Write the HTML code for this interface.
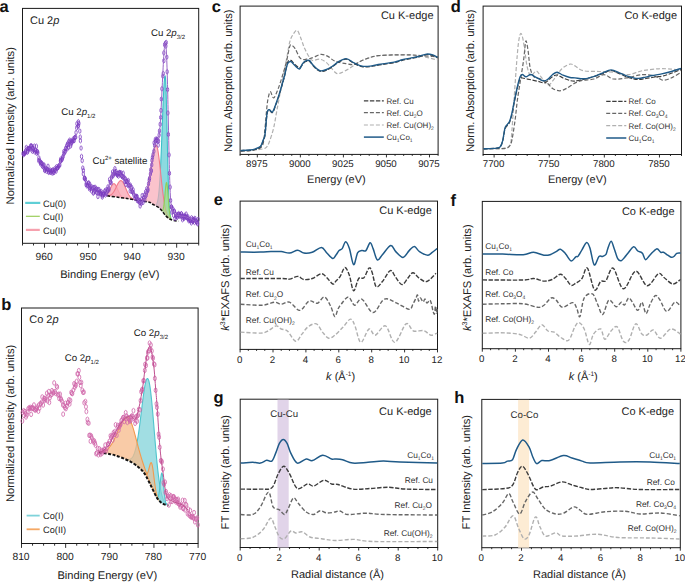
<!DOCTYPE html>
<html><head><meta charset="utf-8"><style>
html,body{margin:0;padding:0;background:#fff;overflow:hidden;}
svg{display:block;}
text{font-family:"Liberation Sans", sans-serif;text-rendering:geometricPrecision;}
</style></head><body>
<svg width="685" height="582" viewBox="0 0 685 582">
<rect width="685" height="582" fill="#fff"/>
<text x="-0.5" y="12" font-size="16.5" text-anchor="start" font-weight="bold" fill="#111" >a</text>
<text x="1.2" y="309.6" font-size="16.5" text-anchor="start" font-weight="bold" fill="#111" >b</text>
<text x="211.8" y="11.8" font-size="16.5" text-anchor="start" font-weight="bold" fill="#111" >c</text>
<text x="450.8" y="12" font-size="16.5" text-anchor="start" font-weight="bold" fill="#111" >d</text>
<text x="213.8" y="205.1" font-size="16.5" text-anchor="start" font-weight="bold" fill="#111" >e</text>
<text x="450.6" y="205.8" font-size="16.5" text-anchor="start" font-weight="bold" fill="#111" >f</text>
<text x="213.6" y="402.6" font-size="16.5" text-anchor="start" font-weight="bold" fill="#111" >g</text>
<text x="454.2" y="402.7" font-size="16.5" text-anchor="start" font-weight="bold" fill="#111" >h</text>
<rect x="22.5" y="8.4" width="176.2" height="234.9" fill="none" stroke="#1a1a1a" stroke-width="1"/>
<path d="M198.7,243.3v2.2M187.69,243.3v2.2M176.67,243.3v4.4M165.66,243.3v2.2M154.65,243.3v2.2M143.64,243.3v2.2M132.62,243.3v4.4M121.61,243.3v2.2M110.6,243.3v2.2M99.59,243.3v2.2M88.57,243.3v4.4M77.56,243.3v2.2M66.55,243.3v2.2M55.54,243.3v2.2M44.52,243.3v4.4M33.51,243.3v2.2M22.5,243.3v2.2" stroke="#1a1a1a" stroke-width="0.9" fill="none"/>
<text x="44.02" y="259.5" font-size="10.3" text-anchor="middle" font-weight="normal" fill="#222" >960</text>
<text x="88.07" y="259.5" font-size="10.3" text-anchor="middle" font-weight="normal" fill="#222" >950</text>
<text x="132.12" y="259.5" font-size="10.3" text-anchor="middle" font-weight="normal" fill="#222" >940</text>
<text x="176.17" y="259.5" font-size="10.3" text-anchor="middle" font-weight="normal" fill="#222" >930</text>
<text x="109.8" y="278" font-size="11.1" text-anchor="middle" font-weight="normal" fill="#222" >Binding Energy (eV)</text>
<text transform="translate(14.2,204.4) rotate(-90)" font-size="11.15" fill="#222">Normalized Intensity (arb. units)</text>
<text x="30" y="23.7" font-size="11" text-anchor="start" font-weight="normal" fill="#222" >Cu 2<tspan font-style="italic">p</tspan></text>
<rect x="21.5" y="308" width="176.6" height="235.5" fill="none" stroke="#1a1a1a" stroke-width="1"/>
<path d="M198.1,543.5v4.4M187.06,543.5v2.2M176.03,543.5v2.2M164.99,543.5v2.2M153.95,543.5v4.4M142.91,543.5v2.2M131.88,543.5v2.2M120.84,543.5v2.2M109.8,543.5v4.4M98.76,543.5v2.2M87.72,543.5v2.2M76.69,543.5v2.2M65.65,543.5v4.4M54.61,543.5v2.2M43.58,543.5v2.2M32.54,543.5v2.2M21.5,543.5v4.4" stroke="#1a1a1a" stroke-width="0.9" fill="none"/>
<text x="21" y="559.5" font-size="10.3" text-anchor="middle" font-weight="normal" fill="#222" >810</text>
<text x="65.15" y="559.5" font-size="10.3" text-anchor="middle" font-weight="normal" fill="#222" >800</text>
<text x="109.3" y="559.5" font-size="10.3" text-anchor="middle" font-weight="normal" fill="#222" >790</text>
<text x="153.45" y="559.5" font-size="10.3" text-anchor="middle" font-weight="normal" fill="#222" >780</text>
<text x="197.6" y="559.5" font-size="10.3" text-anchor="middle" font-weight="normal" fill="#222" >770</text>
<text x="107.3" y="579" font-size="11.15" text-anchor="middle" font-weight="normal" fill="#222" >Binding Energy (eV)</text>
<text transform="translate(13.6,502.1) rotate(-90)" font-size="11.15" fill="#222">Normalized Intensity (arb. units)</text>
<text x="29.2" y="322.9" font-size="11" text-anchor="start" font-weight="normal" fill="#222" >Co 2<tspan font-style="italic">p</tspan></text>
<rect x="240.1" y="6.1" width="198" height="148.3" fill="none" stroke="#1a1a1a" stroke-width="1"/>
<path d="M240.1,154.4v1.5M248.71,154.4v1.5M257.32,154.4v3M265.93,154.4v1.5M274.53,154.4v1.5M283.14,154.4v1.5M291.75,154.4v1.5M300.36,154.4v3M308.97,154.4v1.5M317.58,154.4v1.5M326.19,154.4v1.5M334.8,154.4v1.5M343.4,154.4v3M352.01,154.4v1.5M360.62,154.4v1.5M369.23,154.4v1.5M377.84,154.4v1.5M386.45,154.4v3M395.06,154.4v1.5M403.67,154.4v1.5M412.27,154.4v1.5M420.88,154.4v1.5M429.49,154.4v3M438.1,154.4v1.5" stroke="#1a1a1a" stroke-width="0.9" fill="none"/>
<text x="256.82" y="166.6" font-size="9.7" text-anchor="middle" font-weight="normal" fill="#222" >8975</text>
<text x="299.86" y="166.6" font-size="9.7" text-anchor="middle" font-weight="normal" fill="#222" >9000</text>
<text x="342.9" y="166.6" font-size="9.7" text-anchor="middle" font-weight="normal" fill="#222" >9025</text>
<text x="385.95" y="166.6" font-size="9.7" text-anchor="middle" font-weight="normal" fill="#222" >9050</text>
<text x="428.99" y="166.6" font-size="9.7" text-anchor="middle" font-weight="normal" fill="#222" >9075</text>
<text x="336.4" y="182.5" font-size="11" text-anchor="middle" font-weight="normal" fill="#222" >Energy (eV)</text>
<text transform="translate(231.9,152) rotate(-90)" font-size="11.15" fill="#222">Norm. Absorption (arb. units)</text>
<text x="433.5" y="18.8" font-size="11" text-anchor="end" font-weight="normal" fill="#222" >Cu K-edge</text>
<rect x="483.1" y="6.1" width="198.4" height="148.4" fill="none" stroke="#1a1a1a" stroke-width="1"/>
<path d="M483.1,154.5v1.5M494.12,154.5v3M505.14,154.5v1.5M516.17,154.5v1.5M527.19,154.5v1.5M538.21,154.5v1.5M549.23,154.5v3M560.26,154.5v1.5M571.28,154.5v1.5M582.3,154.5v1.5M593.32,154.5v1.5M604.34,154.5v3M615.37,154.5v1.5M626.39,154.5v1.5M637.41,154.5v1.5M648.43,154.5v1.5M659.46,154.5v3M670.48,154.5v1.5M681.5,154.5v1.5" stroke="#1a1a1a" stroke-width="0.9" fill="none"/>
<text x="493.62" y="166.6" font-size="9.7" text-anchor="middle" font-weight="normal" fill="#222" >7700</text>
<text x="548.73" y="166.6" font-size="9.7" text-anchor="middle" font-weight="normal" fill="#222" >7750</text>
<text x="603.84" y="166.6" font-size="9.7" text-anchor="middle" font-weight="normal" fill="#222" >7800</text>
<text x="658.96" y="166.6" font-size="9.7" text-anchor="middle" font-weight="normal" fill="#222" >7850</text>
<text x="577.3" y="182.5" font-size="11" text-anchor="middle" font-weight="normal" fill="#222" >Energy (eV)</text>
<text transform="translate(473.9,152) rotate(-90)" font-size="11.15" fill="#222">Norm. Absorption (arb. units)</text>
<text x="677" y="18.5" font-size="11" text-anchor="end" font-weight="normal" fill="#222" >Co K-edge</text>
<rect x="240.1" y="201.1" width="197.4" height="148.3" fill="none" stroke="#1a1a1a" stroke-width="1"/>
<path d="M240.1,349.4v3M248.32,349.4v1.5M256.55,349.4v1.5M264.77,349.4v1.5M273,349.4v3M281.23,349.4v1.5M289.45,349.4v1.5M297.68,349.4v1.5M305.9,349.4v3M314.12,349.4v1.5M322.35,349.4v1.5M330.57,349.4v1.5M338.8,349.4v3M347.02,349.4v1.5M355.25,349.4v1.5M363.48,349.4v1.5M371.7,349.4v3M379.93,349.4v1.5M388.15,349.4v1.5M396.38,349.4v1.5M404.6,349.4v3M412.82,349.4v1.5M421.05,349.4v1.5M429.27,349.4v1.5M437.5,349.4v3" stroke="#1a1a1a" stroke-width="0.9" fill="none"/>
<text x="239.6" y="362.7" font-size="9.7" text-anchor="middle" font-weight="normal" fill="#222" >0</text>
<text x="272.5" y="362.7" font-size="9.7" text-anchor="middle" font-weight="normal" fill="#222" >2</text>
<text x="305.4" y="362.7" font-size="9.7" text-anchor="middle" font-weight="normal" fill="#222" >4</text>
<text x="338.3" y="362.7" font-size="9.7" text-anchor="middle" font-weight="normal" fill="#222" >6</text>
<text x="371.2" y="362.7" font-size="9.7" text-anchor="middle" font-weight="normal" fill="#222" >8</text>
<text x="404.1" y="362.7" font-size="9.7" text-anchor="middle" font-weight="normal" fill="#222" >10</text>
<text x="437" y="362.7" font-size="9.7" text-anchor="middle" font-weight="normal" fill="#222" >12</text>
<text x="340.6" y="379.8" font-size="11" text-anchor="middle" font-weight="normal" fill="#222" ><tspan font-style="italic">k</tspan> (Å<tspan font-size="6.5" dy="-4">-1</tspan><tspan dy="4">)</tspan></text>
<text transform="translate(228.8,330.8) rotate(-90)" font-size="11.15" fill="#222"><tspan font-style="italic">k</tspan><tspan font-size="7" dy="-4">3</tspan><tspan dy="4">*EXAFS (arb. units)</tspan></text>
<text x="431.8" y="214.2" font-size="11" text-anchor="end" font-weight="normal" fill="#222" >Cu K-edge</text>
<rect x="482.3" y="201.4" width="198.6" height="147.3" fill="none" stroke="#1a1a1a" stroke-width="1"/>
<path d="M482.3,348.7v3M490.57,348.7v1.5M498.85,348.7v1.5M507.12,348.7v1.5M515.4,348.7v3M523.67,348.7v1.5M531.95,348.7v1.5M540.23,348.7v1.5M548.5,348.7v3M556.77,348.7v1.5M565.05,348.7v1.5M573.33,348.7v1.5M581.6,348.7v3M589.88,348.7v1.5M598.15,348.7v1.5M606.42,348.7v1.5M614.7,348.7v3M622.98,348.7v1.5M631.25,348.7v1.5M639.52,348.7v1.5M647.8,348.7v3M656.08,348.7v1.5M664.35,348.7v1.5M672.62,348.7v1.5M680.9,348.7v3" stroke="#1a1a1a" stroke-width="0.9" fill="none"/>
<text x="481.8" y="362.2" font-size="9.7" text-anchor="middle" font-weight="normal" fill="#222" >0</text>
<text x="514.9" y="362.2" font-size="9.7" text-anchor="middle" font-weight="normal" fill="#222" >2</text>
<text x="548" y="362.2" font-size="9.7" text-anchor="middle" font-weight="normal" fill="#222" >4</text>
<text x="581.1" y="362.2" font-size="9.7" text-anchor="middle" font-weight="normal" fill="#222" >6</text>
<text x="614.2" y="362.2" font-size="9.7" text-anchor="middle" font-weight="normal" fill="#222" >8</text>
<text x="647.3" y="362.2" font-size="9.7" text-anchor="middle" font-weight="normal" fill="#222" >10</text>
<text x="680.4" y="362.2" font-size="9.7" text-anchor="middle" font-weight="normal" fill="#222" >12</text>
<text x="583.2" y="379.5" font-size="11" text-anchor="middle" font-weight="normal" fill="#222" ><tspan font-style="italic">k</tspan> (Å<tspan font-size="6.5" dy="-4">-1</tspan><tspan dy="4">)</tspan></text>
<text transform="translate(471.1,331.1) rotate(-90)" font-size="11.15" fill="#222"><tspan font-style="italic">k</tspan><tspan font-size="7" dy="-4">3</tspan><tspan dy="4">*EXAFS (arb. units)</tspan></text>
<text x="674.5" y="214.8" font-size="11" text-anchor="end" font-weight="normal" fill="#222" >Co K-edge</text>
<rect x="240.2" y="399.2" width="197.5" height="148.3" fill="none" stroke="#1a1a1a" stroke-width="1"/>
<path d="M240.2,547.5v3M250.07,547.5v1.5M259.95,547.5v1.5M269.82,547.5v1.5M279.7,547.5v3M289.57,547.5v1.5M299.45,547.5v1.5M309.32,547.5v1.5M319.2,547.5v3M329.07,547.5v1.5M338.95,547.5v1.5M348.82,547.5v1.5M358.7,547.5v3M368.57,547.5v1.5M378.45,547.5v1.5M388.32,547.5v1.5M398.2,547.5v3M408.07,547.5v1.5M417.95,547.5v1.5M427.82,547.5v1.5M437.7,547.5v3" stroke="#1a1a1a" stroke-width="0.9" fill="none"/>
<text x="239.7" y="561" font-size="9.7" text-anchor="middle" font-weight="normal" fill="#222" >0</text>
<text x="279.2" y="561" font-size="9.7" text-anchor="middle" font-weight="normal" fill="#222" >2</text>
<text x="318.7" y="561" font-size="9.7" text-anchor="middle" font-weight="normal" fill="#222" >4</text>
<text x="358.2" y="561" font-size="9.7" text-anchor="middle" font-weight="normal" fill="#222" >6</text>
<text x="397.7" y="561" font-size="9.7" text-anchor="middle" font-weight="normal" fill="#222" >8</text>
<text x="437.2" y="561" font-size="9.7" text-anchor="middle" font-weight="normal" fill="#222" >10</text>
<text x="337.5" y="577.8" font-size="11" text-anchor="middle" font-weight="normal" fill="#222" >Radial distance (Å)</text>
<text transform="translate(228.5,529.4) rotate(-90)" font-size="11.15" fill="#222">FT Intensity (arb. units)</text>
<text x="431.7" y="414.5" font-size="11" text-anchor="end" font-weight="normal" fill="#222" >Cu K-edge</text>
<rect x="481.8" y="399.4" width="198.5" height="148.3" fill="none" stroke="#1a1a1a" stroke-width="1"/>
<path d="M481.8,547.7v3M491.73,547.7v1.5M501.65,547.7v1.5M511.57,547.7v1.5M521.5,547.7v3M531.42,547.7v1.5M541.35,547.7v1.5M551.27,547.7v1.5M561.2,547.7v3M571.12,547.7v1.5M581.05,547.7v1.5M590.98,547.7v1.5M600.9,547.7v3M610.83,547.7v1.5M620.75,547.7v1.5M630.67,547.7v1.5M640.6,547.7v3M650.52,547.7v1.5M660.45,547.7v1.5M670.38,547.7v1.5M680.3,547.7v3" stroke="#1a1a1a" stroke-width="0.9" fill="none"/>
<text x="481.3" y="561.2" font-size="9.7" text-anchor="middle" font-weight="normal" fill="#222" >0</text>
<text x="521" y="561.2" font-size="9.7" text-anchor="middle" font-weight="normal" fill="#222" >2</text>
<text x="560.7" y="561.2" font-size="9.7" text-anchor="middle" font-weight="normal" fill="#222" >4</text>
<text x="600.4" y="561.2" font-size="9.7" text-anchor="middle" font-weight="normal" fill="#222" >6</text>
<text x="640.1" y="561.2" font-size="9.7" text-anchor="middle" font-weight="normal" fill="#222" >8</text>
<text x="679.8" y="561.2" font-size="9.7" text-anchor="middle" font-weight="normal" fill="#222" >10</text>
<text x="579.5" y="578" font-size="11" text-anchor="middle" font-weight="normal" fill="#222" >Radial distance (Å)</text>
<text transform="translate(470.2,529.4) rotate(-90)" font-size="11.15" fill="#222">FT Intensity (arb. units)</text>
<text x="674.1" y="414.7" font-size="11" text-anchor="end" font-weight="normal" fill="#222" >Co K-edge</text>
<path d="M240.5,150.6C242.92,150.5 251.25,150.28 255,150C258.75,149.72 261.08,149.37 263,148.9C264.92,148.43 265.45,148.35 266.5,147.2C267.55,146.05 268.12,145.18 269.3,142C270.48,138.82 272.35,133.28 273.6,128.1C274.85,122.92 275.73,116.63 276.8,110.9C277.87,105.17 278.92,99.43 280,93.7C281.08,87.97 282.22,82.22 283.3,76.5C284.38,70.78 285.43,65.12 286.5,59.4C287.57,53.68 288.63,46.32 289.7,42.2C290.77,38.08 291.65,36.67 292.9,34.7C294.15,32.73 295.77,29.52 297.2,30.4C298.63,31.28 300.25,36.97 301.5,40C302.75,43.03 303.4,45.75 304.7,48.6C306,51.45 307.97,55.12 309.3,57.1C310.63,59.08 310.98,60.15 312.7,60.5C314.42,60.85 317.3,58.85 319.6,59.2C321.9,59.55 323.93,60.43 326.5,62.6C329.07,64.77 332.82,70.4 335,72.2C337.18,74 337.22,74.02 339.6,73.4C341.98,72.78 346.08,70.38 349.3,68.5C352.52,66.62 355.7,63.83 358.9,62.1C362.1,60.37 365.28,59.17 368.5,58.1C371.72,57.03 373.92,56.23 378.2,55.7C382.48,55.17 388.85,55.03 394.2,54.9C399.55,54.77 405.48,54.63 410.3,54.9C415.12,55.17 419.35,55.83 423.1,56.5C426.85,57.17 430.38,58.37 432.8,58.9C435.22,59.43 436.8,59.57 437.6,59.7" fill="none" stroke="#b0b0b0" stroke-width="1.2" stroke-dasharray="4 2" stroke-linejoin="round" />
<path d="M240.5,150.6C242.92,150.42 251.33,150.35 255,149.5C258.67,148.65 260.83,149.08 262.5,145.5C264.17,141.92 264.28,134.25 265,128C265.72,121.75 266.27,113 266.8,108C267.33,103 267.6,100.73 268.2,98C268.8,95.27 269.5,91.6 270.4,91.6C271.3,91.6 272.35,98.37 273.6,98C274.85,97.63 276.47,92.98 277.9,89.4C279.33,85.82 280.77,81.15 282.2,76.5C283.63,71.85 285.25,66.5 286.5,61.5C287.75,56.5 288.82,49.18 289.7,46.5C290.58,43.82 290.9,45.05 291.8,45.4C292.7,45.75 293.83,46.63 295.1,48.6C296.37,50.57 298.15,55.4 299.4,57.2C300.65,59 301.42,59.07 302.6,59.4C303.78,59.73 305.27,59.35 306.5,59.2C307.73,59.05 308.73,58.85 310,58.5C311.27,58.15 312.27,57.78 314.1,57.1C315.93,56.42 318.7,54.52 321,54.4C323.3,54.28 325.57,55.27 327.9,56.4C330.23,57.53 331.98,59.98 335,61.2C338.02,62.42 342.82,63.15 346,63.7C349.18,64.25 351.42,65.03 354.1,64.5C356.78,63.97 359.45,61.67 362.1,60.5C364.75,59.33 367.32,58.3 370,57.5C372.68,56.7 374.17,56.13 378.2,55.7C382.23,55.27 388.85,55.03 394.2,54.9C399.55,54.77 405.75,54.77 410.3,54.9C414.85,55.03 417.75,55.43 421.5,55.7C425.25,55.97 430.12,56.37 432.8,56.5C435.48,56.63 436.8,56.5 437.6,56.5" fill="none" stroke="#676767" stroke-width="1.2" stroke-dasharray="4 2" stroke-linejoin="round" />
<path d="M240.5,151.2C242.08,151.1 247.5,150.9 250,150.6C252.5,150.3 253.73,150.03 255.5,149.4C257.27,148.77 259.32,148.27 260.6,146.8C261.88,145.33 262.47,142.55 263.2,140.6C263.93,138.65 264.35,139.6 265,135.1C265.65,130.6 266.38,117.72 267.1,113.6C267.82,109.48 268.4,110.57 269.3,110.4C270.2,110.23 271.43,113.48 272.5,112.6C273.57,111.72 274.45,108.5 275.7,105.1C276.95,101.7 278.57,96.87 280,92.2C281.43,87.53 283.03,82.05 284.3,77.1C285.57,72.15 286.52,65.3 287.6,62.5C288.68,59.7 289.9,60.33 290.8,60.3C291.7,60.27 292.28,61.58 293,62.3C293.72,63.02 294.03,63.68 295.1,64.6C296.17,65.52 298.15,67.85 299.4,67.8C300.65,67.75 301.63,65.3 302.6,64.3C303.57,63.3 304.08,62.33 305.2,61.8C306.32,61.27 308.05,60.52 309.3,61.1C310.55,61.68 311.43,63.92 312.7,65.3C313.97,66.68 315.52,68.37 316.9,69.4C318.28,70.43 319.4,71.38 321,71.5C322.6,71.62 324.67,70.83 326.5,70.1C328.33,69.37 330.08,68.33 332,67.1C333.92,65.87 335.65,64.02 338,62.7C340.35,61.38 343.42,59.07 346.1,59.2C348.78,59.33 351.43,62.25 354.1,63.5C356.77,64.75 359.43,66.17 362.1,66.7C364.77,67.23 367.42,66.97 370.1,66.7C372.78,66.43 374.18,65.77 378.2,65.1C382.22,64.43 390.18,63.5 394.2,62.7C398.22,61.9 399.62,60.97 402.3,60.3C404.98,59.63 407.63,59.23 410.3,58.7C412.97,58.17 415.62,57.77 418.3,57.1C420.98,56.43 423.98,54.97 426.4,54.7C428.82,54.43 430.93,54.97 432.8,55.5C434.67,56.03 436.8,57.5 437.6,57.9" fill="none" stroke="#3c3c3c" stroke-width="1.2" stroke-dasharray="4.4 1.6" stroke-linejoin="round" />
<path d="M240.5,150.6C242.08,150.5 247.5,150.3 250,150C252.5,149.7 253.73,149.43 255.5,148.8C257.27,148.17 259.32,147.67 260.6,146.2C261.88,144.73 262.47,141.95 263.2,140C263.93,138.05 264.35,139 265,134.5C265.65,130 266.38,117.12 267.1,113C267.82,108.88 268.4,109.97 269.3,109.8C270.2,109.63 271.43,112.88 272.5,112C273.57,111.12 274.45,107.9 275.7,104.5C276.95,101.1 278.57,96.27 280,91.6C281.43,86.93 283.03,81.15 284.3,76.5C285.57,71.85 286.52,66.2 287.6,63.7C288.68,61.2 289.9,61.53 290.8,61.5C291.7,61.47 292.28,62.78 293,63.5C293.72,64.22 294.03,64.88 295.1,65.8C296.17,66.72 298.15,69.35 299.4,69C300.65,68.65 301.63,65 302.6,63.7C303.57,62.4 304.08,61.73 305.2,61.2C306.32,60.67 308.05,59.92 309.3,60.5C310.55,61.08 311.43,63.32 312.7,64.7C313.97,66.08 315.52,67.77 316.9,68.8C318.28,69.83 319.4,70.78 321,70.9C322.6,71.02 324.67,70.23 326.5,69.5C328.33,68.77 330.08,67.73 332,66.5C333.92,65.27 335.65,63.42 338,62.1C340.35,60.78 343.42,58.47 346.1,58.6C348.78,58.73 351.43,61.65 354.1,62.9C356.77,64.15 359.43,65.57 362.1,66.1C364.77,66.63 367.42,66.37 370.1,66.1C372.78,65.83 374.18,65.17 378.2,64.5C382.22,63.83 390.18,62.9 394.2,62.1C398.22,61.3 399.62,60.37 402.3,59.7C404.98,59.03 407.63,58.63 410.3,58.1C412.97,57.57 415.62,57.17 418.3,56.5C420.98,55.83 423.98,54.37 426.4,54.1C428.82,53.83 430.93,54.37 432.8,54.9C434.67,55.43 436.8,56.9 437.6,57.3" fill="none" stroke="#1f5a88" stroke-width="1.4" stroke-linejoin="round" />
<path d="M363.9,100.8H383.8" stroke="#3c3c3c" stroke-width="1.2" stroke-dasharray="4.4 1.6"/>
<text x="386.6" y="103.7" font-size="8.0" text-anchor="start" font-weight="normal" fill="#333" >Ref. Cu</text>
<path d="M363.9,112.7H383.8" stroke="#676767" stroke-width="1.2" stroke-dasharray="4 2"/>
<text x="386.6" y="115.6" font-size="8.0" text-anchor="start" font-weight="normal" fill="#333" >Ref. Cu<tspan font-size="5" dy="2.2">2</tspan><tspan dy="-2.2">O</tspan></text>
<path d="M363.9,125H383.8" stroke="#b0b0b0" stroke-width="1.2" stroke-dasharray="4 2"/>
<text x="386.6" y="127.9" font-size="8.0" text-anchor="start" font-weight="normal" fill="#333" >Ref. Cu(OH)<tspan font-size="5" dy="2.2">2</tspan></text>
<path d="M363.9,137.1H383.8" stroke="#1f5a88" stroke-width="1.5"/>
<text x="386.6" y="140" font-size="8.0" text-anchor="start" font-weight="normal" fill="#333" >Cu<tspan font-size="5" dy="2.2">1</tspan><tspan dy="-2.2">Co</tspan><tspan font-size="5" dy="2.2">1</tspan></text>
<path d="M483.5,148.8C486.25,148.77 496.25,148.73 500,148.6C503.75,148.47 504.42,148.52 506,148C507.58,147.48 508.63,146.88 509.5,145.5C510.37,144.12 510.45,147.28 511.2,139.7C511.95,132.12 513.08,112.95 514,100C514.92,87.05 515.93,71.67 516.7,62C517.47,52.33 517.95,46.73 518.6,42C519.25,37.27 519.92,34.28 520.6,33.6C521.28,32.92 521.97,34.83 522.7,37.9C523.43,40.97 524.27,47.25 525,52C525.73,56.75 526.17,62.45 527.1,66.4C528.03,70.35 529.05,74.93 530.6,75.7C532.15,76.47 534.67,70.82 536.4,71C538.13,71.18 539.07,74.47 541,76.8C542.93,79.13 545.67,84.8 548,85C550.33,85.2 552.68,80.72 555,78C557.32,75.28 559.4,71.02 561.9,68.7C564.4,66.38 567.82,64.57 570,64.1C572.18,63.63 572.83,64.8 575,65.9C577.17,67 578.98,69.77 583,70.7C587.02,71.63 593.73,71.23 599.1,71.5C604.47,71.77 610.38,71.77 615.2,72.3C620.02,72.83 623.47,74.97 628,74.7C632.53,74.43 637.32,71.68 642.4,70.7C647.48,69.72 653.67,69.07 658.5,68.8C663.33,68.53 667.65,68.78 671.4,69.1C675.15,69.42 679.4,70.43 681,70.7" fill="none" stroke="#b0b0b0" stroke-width="1.2" stroke-dasharray="4 2" stroke-linejoin="round" />
<path d="M483.5,148.8C486.25,148.77 496.08,148.73 500,148.6C503.92,148.47 505.33,148.52 507,148C508.67,147.48 509.17,146.88 510,145.5C510.83,144.12 511.15,143.95 512,139.7C512.85,135.45 514.2,126.62 515.1,120C516,113.38 516.5,106.67 517.4,100C518.3,93.33 519.47,86.67 520.5,80C521.53,73.33 522.82,65.83 523.6,60C524.38,54.17 524.77,48.15 525.2,45C525.63,41.85 525.72,40.13 526.2,41.1C526.68,42.07 527.43,46.32 528.1,50.8C528.77,55.28 529.22,63.67 530.2,68C531.18,72.33 532.2,74.93 534,76.8C535.8,78.67 538.67,78.03 541,79.2C543.33,80.37 546.07,82.27 548,83.8C549.93,85.33 550.67,87.23 552.6,88.4C554.53,89.57 557.28,90.8 559.6,90.8C561.92,90.8 563.8,89.77 566.5,88.4C569.2,87.03 573.05,83.95 575.8,82.6C578.55,81.25 579.97,80.9 583,80.3C586.03,79.7 590.52,79.93 594,79C597.48,78.07 600.65,74.7 603.9,74.7C607.15,74.7 609.75,78.47 613.5,79C617.25,79.53 621.58,78.62 626.4,77.9C631.22,77.18 637.58,74.97 642.4,74.7C647.22,74.43 651.82,75.37 655.3,76.3C658.78,77.23 660.35,80.17 663.3,80.3C666.25,80.43 670.05,78.43 673,77.1C675.95,75.77 679.67,73.1 681,72.3" fill="none" stroke="#676767" stroke-width="1.2" stroke-dasharray="4 2" stroke-linejoin="round" />
<path d="M483.5,148.8C485.75,148.7 494.18,148.58 497,148.2C499.82,147.82 499.45,147.7 500.4,146.5C501.35,145.3 501.93,143.92 502.7,141C503.47,138.08 504.22,131.58 505,129C505.78,126.42 506.62,126.67 507.4,125.5C508.18,124.33 508.93,123.92 509.7,122C510.47,120.08 511.23,117.33 512,114C512.77,110.67 513.33,106.67 514.3,102C515.27,97.33 516.83,89.92 517.8,86C518.77,82.08 519.33,79.83 520.1,78.5C520.87,77.17 521.25,77.92 522.4,78C523.55,78.08 525.4,78.67 527,79C528.6,79.33 530.17,79.62 532,80C533.83,80.38 535.83,80.85 538,81.3C540.17,81.75 542.67,83.42 545,82.7C547.33,81.98 550,78.28 552,77C554,75.72 555.17,74.83 557,75C558.83,75.17 560.83,77.08 563,78C565.17,78.92 568,79.98 570,80.5C572,81.02 572.5,81.35 575,81.1C577.5,80.85 581.83,79.77 585,79C588.17,78.23 591,77.42 594,76.5C597,75.58 600.17,74.5 603,73.5C605.83,72.5 608.17,70.42 611,70.5C613.83,70.58 616.83,72.75 620,74C623.17,75.25 627,77.08 630,78C633,78.92 635.33,79.42 638,79.5C640.67,79.58 643.17,78.92 646,78.5C648.83,78.08 652.17,77.42 655,77C657.83,76.58 660.17,76.67 663,76C665.83,75.33 669,74.08 672,73C675,71.92 679.5,70.08 681,69.5" fill="none" stroke="#3c3c3c" stroke-width="1.2" stroke-dasharray="4.4 1.6" stroke-linejoin="round" />
<path d="M483.5,148.8C485.73,148.68 494.08,148.48 496.9,148.1C499.72,147.72 499.43,147.75 500.4,146.5C501.37,145.25 501.93,143.7 502.7,140.6C503.47,137.5 504.22,130.6 505,127.9C505.78,125.2 506.62,125.57 507.4,124.4C508.18,123.23 508.93,122.83 509.7,120.9C510.47,118.97 511.23,116.08 512,112.8C512.77,109.52 513.33,105.83 514.3,101.2C515.27,96.57 516.83,89.07 517.8,85C518.77,80.93 519.33,78.55 520.1,76.8C520.87,75.05 521.43,74.5 522.4,74.5C523.37,74.5 524.53,76.8 525.9,76.8C527.27,76.8 529.05,74.5 530.6,74.5C532.15,74.5 533.08,75.75 535.2,76.8C537.32,77.85 541.17,80.4 543.3,80.8C545.43,81.2 546.45,80.25 548,79.2C549.55,78.15 551.07,75.67 552.6,74.5C554.13,73.33 555.47,72.08 557.2,72.2C558.93,72.32 560.87,74.32 563,75.2C565.13,76.08 568,77.05 570,77.5C572,77.95 572.57,77.7 575,77.9C577.43,78.1 581.38,78.97 584.6,78.7C587.82,78.43 591.35,77.23 594.3,76.3C597.25,75.37 599.5,74.17 602.3,73.1C605.1,72.03 608.15,69.9 611.1,69.9C614.05,69.9 617.18,72.03 620,73.1C622.82,74.17 625.07,75.42 628,76.3C630.93,77.18 634.65,78.27 637.6,78.4C640.55,78.53 643.28,77.58 645.7,77.1C648.12,76.62 649.43,76.03 652.1,75.5C654.77,74.97 658.48,74.57 661.7,73.9C664.92,73.23 668.18,72.43 671.4,71.5C674.62,70.57 679.4,68.83 681,68.3" fill="none" stroke="#1f5a88" stroke-width="1.4" stroke-linejoin="round" />
<path d="M606.2,101.4H626.3" stroke="#3c3c3c" stroke-width="1.2" stroke-dasharray="4.4 1.6"/>
<text x="628.5" y="104.3" font-size="8.0" text-anchor="start" font-weight="normal" fill="#333" >Ref. Co</text>
<path d="M606.2,113.3H626.3" stroke="#676767" stroke-width="1.2" stroke-dasharray="4 2"/>
<text x="628.5" y="116.2" font-size="8.0" text-anchor="start" font-weight="normal" fill="#333" >Ref. Co<tspan font-size="5" dy="2.2">3</tspan><tspan dy="-2.2">O</tspan><tspan font-size="5" dy="2.2">4</tspan></text>
<path d="M606.2,125.6H626.3" stroke="#b0b0b0" stroke-width="1.2" stroke-dasharray="4 2"/>
<text x="628.5" y="128.5" font-size="8.0" text-anchor="start" font-weight="normal" fill="#333" >Ref. Co(OH)<tspan font-size="5" dy="2.2">2</tspan></text>
<path d="M606.2,138H626.3" stroke="#1f5a88" stroke-width="1.5"/>
<text x="628.5" y="140.9" font-size="8.0" text-anchor="start" font-weight="normal" fill="#333" >Cu<tspan font-size="5" dy="2.2">1</tspan><tspan dy="-2.2">Co</tspan><tspan font-size="5" dy="2.2">1</tspan></text>
<path d="M240.5,332.1C243.85,332.27 256.02,333.28 260.6,333.1C265.18,332.92 265.42,332.2 268,331C270.58,329.8 273.9,326.23 276.1,325.9C278.3,325.57 279.32,328.15 281.2,329C283.08,329.85 284.98,328.95 287.4,331C289.82,333.05 293.28,340.78 295.7,341.3C298.12,341.82 299.85,336.5 301.9,334.1C303.95,331.7 305.6,328.62 308,326.9C310.4,325.18 313.88,322.93 316.3,323.8C318.72,324.67 320.43,329.7 322.5,332.1C324.57,334.5 326.65,337.68 328.7,338.2C330.75,338.72 332.38,337.08 334.8,335.2C337.22,333.32 340.58,329.58 343.2,326.9C345.82,324.22 348.53,319.25 350.5,319.1C352.47,318.95 353.28,322.12 355,326C356.72,329.88 358.47,341.9 360.8,342.4C363.13,342.9 366.6,330.2 369,329C371.4,327.8 372.45,335.72 375.2,335.2C377.95,334.68 382.23,324.7 385.5,325.9C388.77,327.1 391.37,342.75 394.8,342.4C398.23,342.05 403,325.7 406.1,323.8C409.2,321.9 410.47,329.87 413.4,331C416.33,332.13 420.78,329.9 423.7,330.6C426.62,331.3 428.67,334.78 430.9,335.2C433.13,335.62 436.07,333.45 437.1,333.1" fill="none" stroke="#b0b0b0" stroke-width="1.4" stroke-dasharray="4 2" stroke-linejoin="round" />
<path d="M240.5,304.2C243.85,304.38 256.02,305.33 260.6,305.3C265.18,305.27 265.6,304.52 268,304C270.4,303.48 272.8,302.17 275,302.2C277.2,302.23 278.78,304.2 281.2,304.2C283.62,304.2 286.4,301.17 289.5,302.2C292.6,303.23 296.53,310.58 299.8,310.4C303.07,310.22 306.18,302.3 309.1,301.1C312.02,299.9 314.73,303.88 317.3,303.2C319.87,302.52 322.27,296.48 324.5,297C326.73,297.52 328.98,303.03 330.7,306.3C332.42,309.57 333.58,316.15 334.8,316.6C336.02,317.05 336.93,311.07 338,309C339.07,306.93 339.47,306.2 341.2,304.2C342.93,302.2 346.17,296.82 348.4,297C350.63,297.18 352.37,304.95 354.6,305.3C356.83,305.65 358.72,297.9 361.8,299.1C364.88,300.3 369.32,312.5 373.1,312.5C376.88,312.5 380.53,300.65 384.5,299.1C388.47,297.55 392.78,301.48 396.9,303.2C401.02,304.92 406.52,309.27 409.2,309.4C411.88,309.53 411.87,305.9 413,304C414.13,302.1 415.25,299.5 416,298C416.75,296.5 417.08,294.5 417.5,295C417.92,295.5 418,300.5 418.5,301C419,301.5 419.75,297.83 420.5,298C421.25,298.17 422.25,301.83 423,302C423.75,302.17 424.33,298.83 425,299C425.67,299.17 426.2,302.82 427,303C427.8,303.18 429.05,299.93 429.8,300.1C430.55,300.27 430.97,302.18 431.5,304C432.03,305.82 432.5,309.33 433,311C433.5,312.67 434.08,314.83 434.5,314C434.92,313.17 435.17,306.17 435.5,306C435.83,305.83 436.23,312.5 436.5,313C436.77,313.5 437,309.67 437.1,309" fill="none" stroke="#676767" stroke-width="1.4" stroke-dasharray="4 2" stroke-linejoin="round" />
<path d="M240.5,278.5C247.28,278.5 273.03,278.4 281.2,278.5C289.37,278.6 286.75,279.45 289.5,279.1C292.25,278.75 295.3,276.33 297.7,276.4C300.1,276.47 301.48,279.15 303.9,279.5C306.32,279.85 309.28,279.47 312.2,278.5C315.12,277.53 319,273.88 321.4,273.7C323.8,273.52 324.7,275.68 326.6,277.4C328.5,279.12 331.23,283.4 332.8,284C334.37,284.6 334.77,282.27 336,281C337.23,279.73 338.72,278.65 340.2,276.4C341.68,274.15 343.37,267.67 344.9,267.5C346.43,267.33 347.95,271.52 349.4,275.4C350.85,279.28 352.05,290.28 353.6,290.8C355.15,291.32 356.98,280.67 358.7,278.5C360.42,276.33 362.18,279.53 363.9,277.8C365.62,276.07 367.65,269.07 369,268.1C370.35,267.13 370.8,268.9 372,272C373.2,275.1 374.47,285.12 376.2,286.7C377.93,288.28 380.05,284.18 382.4,281.5C384.75,278.82 388.12,271.35 390.3,270.6C392.48,269.85 393.55,274.67 395.5,277C397.45,279.33 399.92,284.43 402,284.6C404.08,284.77 406.17,279.98 408,278C409.83,276.02 411.17,272.7 413,272.7C414.83,272.7 416.7,276.53 419,278C421.3,279.47 423.97,282.28 426.8,281.5C429.63,280.72 434.47,274.67 436,273.3" fill="none" stroke="#3c3c3c" stroke-width="1.4" stroke-dasharray="4.4 1.6" stroke-linejoin="round" />
<path d="M240.5,252.1C243.85,252.1 255.53,252.18 260.6,252.1C265.67,252.02 267.47,251.68 270.9,251.6C274.33,251.52 278.1,251.35 281.2,251.6C284.3,251.85 286.75,253.33 289.5,253.1C292.25,252.87 295.3,250.2 297.7,250.2C300.1,250.2 301.48,252.75 303.9,253.1C306.32,253.45 309.28,253.23 312.2,252.3C315.12,251.37 319,247.43 321.4,247.5C323.8,247.57 324.7,250.87 326.6,252.7C328.5,254.53 331.23,258.12 332.8,258.5C334.37,258.88 334.95,256.32 336,255C337.05,253.68 338.07,251.67 339.1,250.6C340.13,249.53 341.1,250.07 342.2,248.6C343.3,247.13 344.5,241.8 345.7,241.8C346.9,241.8 348.08,244.8 349.4,248.6C350.72,252.4 352.22,263.92 353.6,264.6C354.98,265.28 356.33,255.03 357.7,252.7C359.07,250.37 360.43,250.95 361.8,250.6C363.17,250.25 364.52,251.9 365.9,250.6C367.28,249.3 368.9,243.13 370.1,242.8C371.3,242.47 371.9,245.75 373.1,248.6C374.3,251.45 375.75,258.88 377.3,259.9C378.85,260.92 380.17,257.1 382.4,254.7C384.63,252.3 388.47,246.02 390.7,245.5C392.93,244.98 393.75,249.62 395.8,251.6C397.85,253.58 400.77,257.57 403,257.4C405.23,257.23 407.3,252.42 409.2,250.6C411.1,248.78 412.68,246.33 414.4,246.5C416.12,246.67 417.27,250.15 419.5,251.6C421.73,253.05 425.73,255.02 427.8,255.2C429.87,255.38 430.35,253.8 431.9,252.7C433.45,251.6 436.23,249.28 437.1,248.6" fill="none" stroke="#1f5a88" stroke-width="1.5" stroke-linejoin="round" />
<text x="245.8" y="246.9" font-size="8.3" text-anchor="start" font-weight="normal" fill="#333" >Cu<tspan font-size="5" dy="2.2">1</tspan><tspan dy="-2.2">Co</tspan><tspan font-size="5" dy="2.2">1</tspan></text>
<text x="245.8" y="275" font-size="8.3" text-anchor="start" font-weight="normal" fill="#333" >Ref. Cu</text>
<text x="245.8" y="297.4" font-size="8.3" text-anchor="start" font-weight="normal" fill="#333" >Ref. Cu<tspan font-size="5" dy="2.2">2</tspan><tspan dy="-2.2">O</tspan></text>
<text x="245.8" y="322.8" font-size="8.3" text-anchor="start" font-weight="normal" fill="#333" >Ref. Cu(OH)<tspan font-size="5" dy="2.2">2</tspan></text>
<path d="M482.7,333.3C485.58,333.22 495.12,332.8 500,332.8C504.88,332.8 508.5,332.97 512,333.3C515.5,333.63 518.1,333.98 521,334.8C523.9,335.62 526.97,338.65 529.4,338.2C531.83,337.75 533.53,334.33 535.6,332.1C537.67,329.87 539.73,324.98 541.8,324.8C543.87,324.62 545.93,329.78 548,331C550.07,332.22 552.13,331.07 554.2,332.1C556.27,333.13 558,335.83 560.4,337.2C562.8,338.57 566.2,342.02 568.6,340.3C571,338.58 573.07,329.87 574.8,326.9C576.53,323.93 577.43,322.15 579,322.5C580.57,322.85 582.48,325.35 584.2,329C585.92,332.65 587.75,343.55 589.3,344.4C590.85,345.25 591.6,336.67 593.5,334.1C595.4,331.53 598.82,328.13 600.7,329C602.58,329.87 603.08,338.97 604.8,339.3C606.52,339.63 608.93,333.07 611,331C613.07,328.93 615.13,325.18 617.2,326.9C619.27,328.62 621.43,339.12 623.4,341.3C625.37,343.48 626.95,342.92 629,340C631.05,337.08 633.55,324.78 635.7,323.8C637.85,322.82 640.02,332.23 641.9,334.1C643.78,335.97 645.1,335.68 647,335C648.9,334.32 651.05,329.47 653.3,330C655.55,330.53 657.58,338.37 660.5,338.2C663.42,338.03 667.47,329.68 670.8,329C674.13,328.32 678.88,333.25 680.5,334.1" fill="none" stroke="#b0b0b0" stroke-width="1.4" stroke-dasharray="4 2" stroke-linejoin="round" />
<path d="M482.7,304.2C486.02,304.13 495.85,303.87 502.6,303.8C509.35,303.73 517.35,303.22 523.2,303.8C529.05,304.38 534.25,307.05 537.7,307.3C541.15,307.55 541.67,306.85 543.9,305.3C546.13,303.75 549.05,298.87 551.1,298C553.15,297.13 554.32,298.55 556.2,300.1C558.08,301.65 559.65,306.88 562.4,307.3C565.15,307.72 570.3,302.42 572.7,302.6C575.1,302.78 575.6,306.07 576.8,308.4C578,310.73 578.67,318.33 579.9,316.6C581.13,314.87 582.12,301.78 584.2,298C586.28,294.22 590.17,292.87 592.4,293.9C594.63,294.93 595.88,300.77 597.6,304.2C599.32,307.63 600.82,315.18 602.7,314.5C604.58,313.82 606.67,301.4 608.9,300.1C611.13,298.8 614.03,306.35 616.1,306.7C618.17,307.05 619.9,302.48 621.3,302.2C622.7,301.92 623.3,305.7 624.5,305C625.7,304.3 627.25,298.58 628.5,298C629.75,297.42 630.45,299.43 632,301.5C633.55,303.57 636.15,310.28 637.8,310.4C639.45,310.52 640.53,301.68 641.9,302.2C643.27,302.72 644.65,313.12 646,313.5C647.35,313.88 648.45,307.48 650,304.5C651.55,301.52 653.63,296.35 655.3,295.6C656.97,294.85 658.1,297.37 660,300C661.9,302.63 664.22,311.03 666.7,311.4C669.18,311.77 672.6,303.05 674.9,302.2C677.2,301.35 679.57,305.62 680.5,306.3" fill="none" stroke="#676767" stroke-width="1.4" stroke-dasharray="4 2" stroke-linejoin="round" />
<path d="M482.7,279.9C489.45,279.92 514.73,280.23 523.2,280C531.67,279.77 530.05,278.32 533.5,278.5C536.95,278.68 540.8,280.93 543.9,281.1C547,281.27 549.35,280.63 552.1,279.5C554.85,278.37 558.08,274.38 560.4,274.3C562.72,274.22 564.22,277.17 566,279C567.78,280.83 569.43,284.63 571.1,285.3C572.77,285.97 574.18,284.13 576,283C577.82,281.87 580.12,280.98 582,278.5C583.88,276.02 585.22,266.22 587.3,268.1C589.38,269.98 592.27,287.57 594.5,289.8C596.73,292.03 598.78,283.05 600.7,281.5C602.62,279.95 603.93,282.73 606,280.5C608.07,278.27 610.2,266.72 613.1,268.1C616,269.48 619.63,288.28 623.4,288.8C627.17,289.32 631.75,271.72 635.7,271.2C639.65,270.68 643.32,285.28 647.1,285.7C650.88,286.12 655.58,275.07 658.4,273.7C661.22,272.33 661.6,275.78 664,277.5C666.4,279.22 670.05,283.67 672.8,284C675.55,284.33 679.22,280.25 680.5,279.5" fill="none" stroke="#3c3c3c" stroke-width="1.4" stroke-dasharray="4.4 1.6" stroke-linejoin="round" />
<path d="M482.7,254.1C486.02,254.1 495.85,254 502.6,254.1C509.35,254.2 518.05,255 523.2,254.7C528.35,254.4 530.05,252.22 533.5,252.3C536.95,252.38 541.15,254.8 543.9,255.2C546.65,255.6 547.95,255.3 550,254.7C552.05,254.1 554.47,252.52 556.2,251.6C557.93,250.68 558.85,248.85 560.4,249.2C561.95,249.55 563.72,251.75 565.5,253.7C567.28,255.65 569.38,260.38 571.1,260.9C572.82,261.42 574.65,257.57 575.8,256.8C576.95,256.03 576.95,257.5 578,256.3C579.05,255.1 580.65,251.92 582.1,249.6C583.55,247.28 585.38,242.63 586.7,242.4C588.02,242.17 588.75,244.45 590,248.2C591.25,251.95 592.7,263.52 594.2,264.9C595.7,266.28 597.62,257.9 599,256.5C600.38,255.1 601.33,256.85 602.5,256.5C603.67,256.15 605.13,255.67 606,254.4C606.87,253.13 606.85,251.1 607.7,248.9C608.55,246.7 610,241.2 611.1,241.2C612.2,241.2 613.2,246 614.3,248.9C615.4,251.8 616.55,256.63 617.7,258.6C618.85,260.57 620.03,260.93 621.2,260.7C622.37,260.47 623.55,258.48 624.7,257.2C625.85,255.92 626.6,254.73 628.1,253C629.6,251.27 632.08,247.13 633.7,246.8C635.32,246.47 636.65,250.13 637.8,251C638.95,251.87 639.78,251.55 640.6,252C641.42,252.45 641.88,252.42 642.7,253.7C643.52,254.98 644.28,259.48 645.5,259.7C646.72,259.92 648.15,256.8 650,255C651.85,253.2 654.82,249.35 656.6,248.9C658.38,248.45 659.55,251.73 660.7,252.3C661.85,252.87 662.33,251.83 663.5,252.3C664.67,252.77 666.43,254.28 667.7,255.1C668.97,255.92 670.07,256.97 671.1,257.2C672.13,257.43 672.97,257.15 673.9,256.5C674.83,255.85 675.6,253.88 676.7,253.3C677.8,252.72 679.87,253.05 680.5,253" fill="none" stroke="#1f5a88" stroke-width="1.5" stroke-linejoin="round" />
<text x="485.2" y="249" font-size="8.3" text-anchor="start" font-weight="normal" fill="#333" >Cu<tspan font-size="5" dy="2.2">1</tspan><tspan dy="-2.2">Co</tspan><tspan font-size="5" dy="2.2">1</tspan></text>
<text x="485.2" y="275" font-size="8.3" text-anchor="start" font-weight="normal" fill="#333" >Ref. Co</text>
<text x="485.2" y="297" font-size="8.3" text-anchor="start" font-weight="normal" fill="#333" >Ref. Co<tspan font-size="5" dy="2.2">3</tspan><tspan dy="-2.2">O</tspan><tspan font-size="5" dy="2.2">4</tspan></text>
<text x="485.2" y="321.8" font-size="8.3" text-anchor="start" font-weight="normal" fill="#333" >Ref. Co(OH)<tspan font-size="5" dy="2.2">2</tspan></text>
<rect x="277.5" y="399.7" width="11.2" height="147.8" fill="#e1d4e9"/>
<path d="M240.7,538.7C242.7,538.5 249,538.98 252.7,537.5C256.4,536.02 259.93,533 262.9,529.8C265.87,526.6 268.48,518.77 270.5,518.3C272.52,517.83 273.52,523.9 275,527C276.48,530.1 277.82,534.95 279.4,536.9C280.98,538.85 282.58,539.68 284.5,538.7C286.42,537.72 288.98,531.95 290.9,531C292.82,530.05 294.1,532.87 296,533C297.9,533.13 299.97,531.13 302.3,531.8C304.63,532.47 306.82,535.85 310,537C313.18,538.15 317.23,538.12 321.4,538.7C325.57,539.28 329.55,540.38 335,540.5C340.45,540.62 347.73,539.23 354.1,539.4C360.47,539.57 359.35,541.15 373.2,541.5C387.05,541.85 426.53,541.5 437.2,541.5" fill="none" stroke="#b0b0b0" stroke-width="1.4" stroke-dasharray="4 2" stroke-linejoin="round" />
<path d="M240.7,514.5C242.7,514.5 249.42,515.77 252.7,514.5C255.98,513.23 257.77,510.63 260.4,506.9C263.03,503.17 266.38,492.1 268.5,492.1C270.62,492.1 271.28,503.93 273.1,506.9C274.92,509.87 277.5,508.63 279.4,509.9C281.3,511.17 283.07,514.65 284.5,514.5C285.93,514.35 286.52,511.75 288,509C289.48,506.25 291.73,499 293.4,498C295.07,497 295.87,500.67 298,503C300.13,505.33 303.57,510.08 306.2,512C308.83,513.92 311.47,514.72 313.8,514.5C316.13,514.28 318,510.95 320.2,510.7C322.4,510.45 324.53,512.78 327,513C329.47,513.22 332.83,512.33 335,512C337.17,511.67 337.88,510.58 340,511C342.12,511.42 343.45,514.13 347.7,514.5C351.95,514.87 359.28,513.2 365.5,513.2C371.72,513.2 373.05,514.2 385,514.5C396.95,514.8 428.5,514.92 437.2,515" fill="none" stroke="#676767" stroke-width="1.4" stroke-dasharray="4 2" stroke-linejoin="round" />
<path d="M240.7,489.1C243.98,489.1 255.22,489.32 260.4,489.1C265.58,488.88 268.83,490.35 271.8,487.8C274.77,485.25 276.2,477.4 278.2,473.8C280.2,470.2 281.9,466.2 283.8,466.2C285.7,466.2 287.35,470.08 289.6,473.8C291.85,477.52 294.33,486.8 297.3,488.5C300.27,490.2 304.65,484.42 307.4,484C310.15,483.58 311.03,486.63 313.8,486C316.57,485.37 321.03,480.53 324,480.2C326.97,479.87 329.27,483.28 331.6,484C333.93,484.72 334.47,483.65 338,484.5C341.53,485.35 347.47,488.43 352.8,489.1C358.13,489.77 364.07,488.8 370,488.5C375.93,488.2 382.57,487.22 388.4,487.3C394.23,487.38 396.87,488.62 405,489C413.13,489.38 431.83,489.5 437.2,489.6" fill="none" stroke="#3c3c3c" stroke-width="1.4" stroke-dasharray="4.4 1.6" stroke-linejoin="round" />
<path d="M240.7,463.1C242.7,462.97 249.42,462.3 252.7,462.3C255.98,462.3 258.07,463.43 260.4,463.1C262.73,462.77 264.8,460.63 266.7,460.3C268.6,459.97 270.32,462.25 271.8,461.1C273.28,459.95 274.33,456.37 275.6,453.4C276.87,450.43 278.12,445.63 279.4,443.3C280.68,440.97 282.02,439.4 283.3,439.4C284.58,439.4 285.83,440.97 287.1,443.3C288.37,445.63 289.2,450.1 290.9,453.4C292.6,456.7 294.75,462.17 297.3,463.1C299.85,464.03 303.67,459.42 306.2,459C308.73,458.58 309.75,461.23 312.5,460.6C315.25,459.97 319.52,455.47 322.7,455.2C325.88,454.93 329.55,458.37 331.6,459C333.65,459.63 333.17,458.87 335,459C336.83,459.13 339.63,459.12 342.6,459.8C345.57,460.48 348.57,462.68 352.8,463.1C357.03,463.52 362.92,462.63 368,462.3C373.08,461.97 377.97,461.15 383.3,461.1C388.63,461.05 391.02,461.67 400,462C408.98,462.33 431,462.92 437.2,463.1" fill="none" stroke="#1f5a88" stroke-width="1.5" stroke-linejoin="round" />
<text x="284.2" y="416.5" font-size="9.7" text-anchor="middle" font-weight="normal" fill="#333" >Cu-Cu</text>
<text x="434" y="458" font-size="8.3" text-anchor="end" font-weight="normal" fill="#333" >Cu<tspan font-size="5" dy="2.2">1</tspan><tspan dy="-2.2">Co</tspan><tspan font-size="5" dy="2.2">1</tspan></text>
<text x="433" y="483.2" font-size="8.3" text-anchor="end" font-weight="normal" fill="#333" >Ref. Cu</text>
<text x="432" y="508.1" font-size="8.3" text-anchor="end" font-weight="normal" fill="#333" >Ref. Cu<tspan font-size="5" dy="2.2">2</tspan><tspan dy="-2.2">O</tspan></text>
<text x="432.6" y="535.6" font-size="8.3" text-anchor="end" font-weight="normal" fill="#333" >Ref. Cu(OH)<tspan font-size="5" dy="2.2">2</tspan></text>
<rect x="518.1" y="399.9" width="11" height="147.8" fill="#fdecd4"/>
<path d="M482.3,536.1C484.42,535.92 491.23,536.48 495,535C498.77,533.52 501.9,530.4 504.9,527.2C507.9,524 510.73,515.67 513,515.8C515.27,515.93 516.67,524.18 518.5,528C520.33,531.82 522.25,537.53 524,538.7C525.75,539.87 527.1,538.62 529,535C530.9,531.38 533.57,518.33 535.4,517C537.23,515.67 538.3,523.82 540,527C541.7,530.18 542.97,535.13 545.6,536.1C548.23,537.07 553.07,532.82 555.8,532.8C558.53,532.78 558.47,535.47 562,536C565.53,536.53 571.12,536.3 577,536C582.88,535.7 590.47,533.95 597.3,534.2C604.13,534.45 609.22,536.87 618,537.5C626.78,538.13 639.7,537.75 650,538C660.3,538.25 674.83,538.83 679.8,539" fill="none" stroke="#b0b0b0" stroke-width="1.4" stroke-dasharray="4 2" stroke-linejoin="round" />
<path d="M482.3,515C483.95,514.5 488.85,513.98 492.2,512C495.55,510.02 499.65,506.17 502.4,503.1C505.15,500.03 506.93,493.78 508.7,493.6C510.47,493.42 511.17,498.6 513,502C514.83,505.4 517.65,514.03 519.7,514C521.75,513.97 523.18,505.45 525.3,501.8C527.42,498.15 530.28,492.57 532.4,492.1C534.52,491.63 535.8,496.12 538,499C540.2,501.88 542.63,506.9 545.6,509.4C548.57,511.9 552.73,513.4 555.8,514C558.87,514.6 561.03,514.18 564,513C566.97,511.82 570.93,507.4 573.6,506.9C576.27,506.4 577.73,508.75 580,510C582.27,511.25 583.03,514.1 587.2,514.4C591.37,514.7 598.65,512.32 605,511.8C611.35,511.28 619.47,510.93 625.3,511.3C631.13,511.67 634.22,513.72 640,514C645.78,514.28 653.37,512.72 660,513C666.63,513.28 676.5,515.25 679.8,515.7" fill="none" stroke="#676767" stroke-width="1.4" stroke-dasharray="4 2" stroke-linejoin="round" />
<path d="M482.3,489.6C486.07,489.42 499.87,489.23 504.9,488.5C509.93,487.77 510.38,487.87 512.5,485.2C514.62,482.53 515.98,475.67 517.6,472.5C519.22,469.33 520.5,465.98 522.2,466.2C523.9,466.42 525.6,469.98 527.8,473.8C530,477.62 532.87,486.9 535.4,489.1C537.93,491.3 540.45,487.52 543,487C545.55,486.48 547.5,486.85 550.7,486C553.9,485.15 558.65,482.07 562.2,481.9C565.75,481.73 568.7,484.02 572,485C575.3,485.98 579,487.05 582,487.8C585,488.55 586.17,489.38 590,489.5C593.83,489.62 600.38,488.8 605,488.5C609.62,488.2 611.87,487.53 617.7,487.7C623.53,487.87 629.65,489.2 640,489.5C650.35,489.8 673.17,489.5 679.8,489.5" fill="none" stroke="#3c3c3c" stroke-width="1.4" stroke-dasharray="4.4 1.6" stroke-linejoin="round" />
<path d="M482.3,463.6C485.65,463.52 498.22,463.52 502.4,463.1C506.58,462.68 505.72,461.65 507.4,461.1C509.08,460.55 511,461.72 512.5,459.8C514,457.88 514.7,452.9 516.4,449.6C518.1,446.3 520.58,440.42 522.7,440C524.82,439.58 527.4,444.22 529.1,447.1C530.8,449.98 531.63,454.55 532.9,457.3C534.17,460.05 535.22,463.05 536.7,463.6C538.18,464.15 539.58,461.1 541.8,460.6C544.02,460.1 546.4,461.45 550,460.6C553.6,459.75 559.73,455.93 563.4,455.5C567.07,455.07 568.9,457.07 572,458C575.1,458.93 579,460.27 582,461.1C585,461.93 583.67,462.85 590,463C596.33,463.15 610,462.17 620,462C630,461.83 640.03,461.75 650,462C659.97,462.25 674.83,463.25 679.8,463.5" fill="none" stroke="#1f5a88" stroke-width="1.5" stroke-linejoin="round" />
<text x="524.5" y="417.8" font-size="9.7" text-anchor="middle" font-weight="normal" fill="#333" >Co-Co</text>
<text x="676.1" y="458" font-size="8.3" text-anchor="end" font-weight="normal" fill="#333" >Cu<tspan font-size="5" dy="2.2">1</tspan><tspan dy="-2.2">Co</tspan><tspan font-size="5" dy="2.2">1</tspan></text>
<text x="674.9" y="484.6" font-size="8.3" text-anchor="end" font-weight="normal" fill="#333" >Ref. Co</text>
<text x="676.1" y="506.8" font-size="8.3" text-anchor="end" font-weight="normal" fill="#333" >Ref. Co<tspan font-size="5" dy="2.2">3</tspan><tspan dy="-2.2">O</tspan><tspan font-size="5" dy="2.2">4</tspan></text>
<text x="676.6" y="531" font-size="8.3" text-anchor="end" font-weight="normal" fill="#333" >Ref. Co(OH)<tspan font-size="5" dy="2.2">2</tspan></text>
<path d="M155.7,204.85 L155.95,204.69 L156.2,204.47 L156.45,204.16 L156.7,203.76 L156.95,203.23 L157.2,202.57 L157.45,201.74 L157.7,200.72 L157.95,199.49 L158.2,198.01 L158.45,196.26 L158.7,194.21 L158.95,191.83 L159.2,189.1 L159.45,185.99 L159.7,182.49 L159.95,178.58 L160.2,174.25 L160.45,169.5 L160.7,164.34 L160.95,158.8 L161.2,152.91 L161.45,146.71 L161.7,140.27 L161.95,133.64 L162.2,126.93 L162.45,120.23 L162.7,113.65 L162.95,107.28 L163.2,101.24 L163.45,95.63 L163.7,90.56 L163.95,86.12 L164.2,82.41 L164.45,79.51 L164.7,77.47 L164.95,76.35 L165.2,76.16 L165.45,77.64 L165.7,81.43 L165.95,87.38 L166.2,95.19 L166.45,104.5 L166.7,114.9 L166.95,125.97 L167.2,137.27 L167.45,148.41 L167.7,159.08 L167.95,169.01 L168.2,178.01 L168.45,185.97 L168.7,192.87 L168.95,198.7 L169.2,203.53 L169.45,207.46 L169.7,210.59 L169.95,213.04 L170.2,214.92 L170.45,216.35 L170.7,217.42 L170.95,218.21 L171.2,218.79 L171.2,219.74 L170.95,219.64 L170.7,219.53 L170.45,219.41 L170.2,219.28 L169.95,219.14 L169.7,219 L169.45,218.85 L169.2,218.69 L168.95,218.52 L168.7,218.34 L168.45,218.16 L168.2,217.97 L167.95,217.77 L167.7,217.57 L167.45,217.36 L167.2,217.14 L166.95,216.92 L166.7,216.69 L166.45,216.45 L166.2,216.21 L165.95,215.96 L165.7,215.7 L165.45,215.44 L165.2,215.16 L164.95,214.86 L164.7,214.55 L164.45,214.23 L164.2,213.9 L163.95,213.56 L163.7,213.22 L163.45,212.88 L163.2,212.54 L162.95,212.2 L162.7,211.87 L162.45,211.55 L162.2,211.24 L161.95,210.94 L161.7,210.65 L161.45,210.35 L161.2,210.05 L160.95,209.76 L160.7,209.47 L160.45,209.18 L160.2,208.91 L159.95,208.64 L159.7,208.38 L159.45,208.14 L159.2,207.91 L158.95,207.69 L158.7,207.5 L158.45,207.32 L158.2,207.15 L157.95,206.99 L157.7,206.83 L157.45,206.68 L157.2,206.54 L156.95,206.4 L156.7,206.27 L156.45,206.14 L156.2,206.01 L155.95,205.89 L155.7,205.77Z" fill="#78d3da" fill-opacity="0.85" stroke="none"/>
<path d="M155.7,204.85 L155.95,204.69 L156.2,204.47 L156.45,204.16 L156.7,203.76 L156.95,203.23 L157.2,202.57 L157.45,201.74 L157.7,200.72 L157.95,199.49 L158.2,198.01 L158.45,196.26 L158.7,194.21 L158.95,191.83 L159.2,189.1 L159.45,185.99 L159.7,182.49 L159.95,178.58 L160.2,174.25 L160.45,169.5 L160.7,164.34 L160.95,158.8 L161.2,152.91 L161.45,146.71 L161.7,140.27 L161.95,133.64 L162.2,126.93 L162.45,120.23 L162.7,113.65 L162.95,107.28 L163.2,101.24 L163.45,95.63 L163.7,90.56 L163.95,86.12 L164.2,82.41 L164.45,79.51 L164.7,77.47 L164.95,76.35 L165.2,76.16 L165.45,77.64 L165.7,81.43 L165.95,87.38 L166.2,95.19 L166.45,104.5 L166.7,114.9 L166.95,125.97 L167.2,137.27 L167.45,148.41 L167.7,159.08 L167.95,169.01 L168.2,178.01 L168.45,185.97 L168.7,192.87 L168.95,198.7 L169.2,203.53 L169.45,207.46 L169.7,210.59 L169.95,213.04 L170.2,214.92 L170.45,216.35 L170.7,217.42 L170.95,218.21 L171.2,218.79" fill="none" stroke="#3cbfc8" stroke-width="1.1"/>
<path d="M107.2,193.62 L107.45,193.35 L107.7,193.05 L107.95,192.73 L108.2,192.38 L108.45,192 L108.7,191.6 L108.95,191.17 L109.2,190.72 L109.45,190.25 L109.7,189.76 L109.95,189.26 L110.2,188.75 L110.45,188.23 L110.7,187.72 L110.95,187.21 L111.2,186.72 L111.45,186.24 L111.7,185.79 L111.95,185.37 L112.2,184.98 L112.45,184.64 L112.7,184.34 L112.95,184.09 L113.2,183.9 L113.45,183.77 L113.7,183.7 L113.95,183.69 L114.2,183.74 L114.45,183.85 L114.7,184.03 L114.95,184.26 L115.2,184.55 L115.45,184.89 L115.7,185.29 L115.95,185.72 L116.2,186.2 L116.45,186.7 L116.7,187.24 L116.95,187.79 L117.2,188.36 L117.45,188.94 L117.7,189.52 L117.95,190.1 L118.2,190.67 L118.45,191.23 L118.7,191.78 L118.95,192.3 L119.2,192.81 L119.45,193.29 L119.7,193.75 L119.95,194.18 L120.2,194.58 L120.45,194.95 L120.7,195.3 L120.95,195.62 L121.2,195.91 L121.45,196.18 L121.7,196.42 L121.95,196.64 L122.2,196.84 L122.45,197.02 L122.7,197.18 L122.95,197.33 L123.2,197.46 L123.45,197.58 L123.7,197.68 L123.95,197.78 L124.2,197.87 L124.45,197.94 L124.7,198.02 L124.95,198.08 L125.2,198.15 L125.45,198.2 L125.45,198.29 L125.2,198.25 L124.95,198.21 L124.7,198.17 L124.45,198.14 L124.2,198.1 L123.95,198.06 L123.7,198.03 L123.45,197.99 L123.2,197.95 L122.95,197.92 L122.7,197.88 L122.45,197.85 L122.2,197.81 L121.95,197.78 L121.7,197.74 L121.45,197.7 L121.2,197.67 L120.95,197.63 L120.7,197.6 L120.45,197.56 L120.2,197.53 L119.95,197.49 L119.7,197.46 L119.45,197.42 L119.2,197.39 L118.95,197.35 L118.7,197.32 L118.45,197.29 L118.2,197.25 L117.95,197.22 L117.7,197.18 L117.45,197.15 L117.2,197.12 L116.95,197.08 L116.7,197.05 L116.45,197.01 L116.2,196.98 L115.95,196.95 L115.7,196.91 L115.45,196.88 L115.2,196.85 L114.95,196.82 L114.7,196.78 L114.45,196.75 L114.2,196.72 L113.95,196.68 L113.7,196.65 L113.45,196.62 L113.2,196.59 L112.95,196.55 L112.7,196.52 L112.45,196.49 L112.2,196.46 L111.95,196.42 L111.7,196.39 L111.45,196.36 L111.2,196.32 L110.95,196.29 L110.7,196.26 L110.45,196.23 L110.2,196.19 L109.95,196.16 L109.7,196.13 L109.45,196.1 L109.2,196.06 L108.95,196.03 L108.7,196 L108.45,195.97 L108.2,195.93 L107.95,195.9 L107.7,195.87 L107.45,195.83 L107.2,195.8Z" fill="#f9a9b6" fill-opacity="0.8" stroke="none"/>
<path d="M107.2,193.62 L107.45,193.35 L107.7,193.05 L107.95,192.73 L108.2,192.38 L108.45,192 L108.7,191.6 L108.95,191.17 L109.2,190.72 L109.45,190.25 L109.7,189.76 L109.95,189.26 L110.2,188.75 L110.45,188.23 L110.7,187.72 L110.95,187.21 L111.2,186.72 L111.45,186.24 L111.7,185.79 L111.95,185.37 L112.2,184.98 L112.45,184.64 L112.7,184.34 L112.95,184.09 L113.2,183.9 L113.45,183.77 L113.7,183.7 L113.95,183.69 L114.2,183.74 L114.45,183.85 L114.7,184.03 L114.95,184.26 L115.2,184.55 L115.45,184.89 L115.7,185.29 L115.95,185.72 L116.2,186.2 L116.45,186.7 L116.7,187.24 L116.95,187.79 L117.2,188.36 L117.45,188.94 L117.7,189.52 L117.95,190.1 L118.2,190.67 L118.45,191.23 L118.7,191.78 L118.95,192.3 L119.2,192.81 L119.45,193.29 L119.7,193.75 L119.95,194.18 L120.2,194.58 L120.45,194.95 L120.7,195.3 L120.95,195.62 L121.2,195.91 L121.45,196.18 L121.7,196.42 L121.95,196.64 L122.2,196.84 L122.45,197.02 L122.7,197.18 L122.95,197.33 L123.2,197.46 L123.45,197.58 L123.7,197.68 L123.95,197.78 L124.2,197.87 L124.45,197.94 L124.7,198.02 L124.95,198.08 L125.2,198.15 L125.45,198.2" fill="none" stroke="#f27a8a" stroke-width="1.1"/>
<path d="M107.2,195.61 L107.45,195.61 L107.7,195.61 L107.95,195.6 L108.2,195.58 L108.45,195.55 L108.7,195.52 L108.95,195.48 L109.2,195.43 L109.45,195.37 L109.7,195.3 L109.95,195.21 L110.2,195.11 L110.45,195 L110.7,194.87 L110.95,194.73 L111.2,194.57 L111.45,194.39 L111.7,194.19 L111.95,193.97 L112.2,193.73 L112.45,193.47 L112.7,193.18 L112.95,192.88 L113.2,192.55 L113.45,192.2 L113.7,191.83 L113.95,191.43 L114.2,191.02 L114.45,190.58 L114.7,190.13 L114.95,189.66 L115.2,189.17 L115.45,188.67 L115.7,188.16 L115.95,187.64 L116.2,187.12 L116.45,186.59 L116.7,186.07 L116.95,185.54 L117.2,185.03 L117.45,184.53 L117.7,184.04 L117.95,183.57 L118.2,183.13 L118.45,182.71 L118.7,182.32 L118.95,181.96 L119.2,181.64 L119.45,181.36 L119.7,181.12 L119.95,180.93 L120.2,180.78 L120.45,180.68 L120.7,180.63 L120.95,180.63 L121.2,180.69 L121.45,180.79 L121.7,180.94 L121.95,181.13 L122.2,181.38 L122.45,181.67 L122.7,182 L122.95,182.38 L123.2,182.79 L123.45,183.24 L123.7,183.72 L123.95,184.22 L124.2,184.75 L124.45,185.3 L124.7,185.87 L124.95,186.45 L125.2,187.04 L125.45,187.64 L125.7,188.24 L125.95,188.83 L126.2,189.42 L126.45,190.01 L126.7,190.59 L126.95,191.15 L127.2,191.7 L127.45,192.23 L127.7,192.74 L127.95,193.24 L128.2,193.71 L128.45,194.17 L128.7,194.6 L128.95,195.01 L129.2,195.4 L129.45,195.76 L129.7,196.11 L129.95,196.43 L130.2,196.73 L130.45,197.02 L130.7,197.28 L130.95,197.53 L131.2,197.75 L131.45,197.97 L131.7,198.16 L131.95,198.35 L132.2,198.52 L132.45,198.68 L132.7,198.82 L132.95,198.96 L133.2,199.08 L133.45,199.2 L133.7,199.31 L133.95,199.41 L134.2,199.51 L134.45,199.6 L134.7,199.68 L134.95,199.76 L135.2,199.84 L135.45,199.91 L135.7,199.97 L135.7,200.08 L135.45,200.03 L135.2,199.98 L134.95,199.93 L134.7,199.88 L134.45,199.83 L134.2,199.79 L133.95,199.74 L133.7,199.69 L133.45,199.64 L133.2,199.59 L132.95,199.54 L132.7,199.49 L132.45,199.44 L132.2,199.4 L131.95,199.35 L131.7,199.3 L131.45,199.25 L131.2,199.21 L130.95,199.16 L130.7,199.12 L130.45,199.08 L130.2,199.03 L129.95,198.99 L129.7,198.95 L129.45,198.91 L129.2,198.87 L128.95,198.83 L128.7,198.79 L128.45,198.75 L128.2,198.71 L127.95,198.67 L127.7,198.63 L127.45,198.59 L127.2,198.55 L126.95,198.51 L126.7,198.47 L126.45,198.44 L126.2,198.4 L125.95,198.36 L125.7,198.32 L125.45,198.29 L125.2,198.25 L124.95,198.21 L124.7,198.17 L124.45,198.14 L124.2,198.1 L123.95,198.06 L123.7,198.03 L123.45,197.99 L123.2,197.95 L122.95,197.92 L122.7,197.88 L122.45,197.85 L122.2,197.81 L121.95,197.78 L121.7,197.74 L121.45,197.7 L121.2,197.67 L120.95,197.63 L120.7,197.6 L120.45,197.56 L120.2,197.53 L119.95,197.49 L119.7,197.46 L119.45,197.42 L119.2,197.39 L118.95,197.35 L118.7,197.32 L118.45,197.29 L118.2,197.25 L117.95,197.22 L117.7,197.18 L117.45,197.15 L117.2,197.12 L116.95,197.08 L116.7,197.05 L116.45,197.01 L116.2,196.98 L115.95,196.95 L115.7,196.91 L115.45,196.88 L115.2,196.85 L114.95,196.82 L114.7,196.78 L114.45,196.75 L114.2,196.72 L113.95,196.68 L113.7,196.65 L113.45,196.62 L113.2,196.59 L112.95,196.55 L112.7,196.52 L112.45,196.49 L112.2,196.46 L111.95,196.42 L111.7,196.39 L111.45,196.36 L111.2,196.32 L110.95,196.29 L110.7,196.26 L110.45,196.23 L110.2,196.19 L109.95,196.16 L109.7,196.13 L109.45,196.1 L109.2,196.06 L108.95,196.03 L108.7,196 L108.45,195.97 L108.2,195.93 L107.95,195.9 L107.7,195.87 L107.45,195.83 L107.2,195.8Z" fill="#f9a9b6" fill-opacity="0.8" stroke="none"/>
<path d="M107.2,195.61 L107.45,195.61 L107.7,195.61 L107.95,195.6 L108.2,195.58 L108.45,195.55 L108.7,195.52 L108.95,195.48 L109.2,195.43 L109.45,195.37 L109.7,195.3 L109.95,195.21 L110.2,195.11 L110.45,195 L110.7,194.87 L110.95,194.73 L111.2,194.57 L111.45,194.39 L111.7,194.19 L111.95,193.97 L112.2,193.73 L112.45,193.47 L112.7,193.18 L112.95,192.88 L113.2,192.55 L113.45,192.2 L113.7,191.83 L113.95,191.43 L114.2,191.02 L114.45,190.58 L114.7,190.13 L114.95,189.66 L115.2,189.17 L115.45,188.67 L115.7,188.16 L115.95,187.64 L116.2,187.12 L116.45,186.59 L116.7,186.07 L116.95,185.54 L117.2,185.03 L117.45,184.53 L117.7,184.04 L117.95,183.57 L118.2,183.13 L118.45,182.71 L118.7,182.32 L118.95,181.96 L119.2,181.64 L119.45,181.36 L119.7,181.12 L119.95,180.93 L120.2,180.78 L120.45,180.68 L120.7,180.63 L120.95,180.63 L121.2,180.69 L121.45,180.79 L121.7,180.94 L121.95,181.13 L122.2,181.38 L122.45,181.67 L122.7,182 L122.95,182.38 L123.2,182.79 L123.45,183.24 L123.7,183.72 L123.95,184.22 L124.2,184.75 L124.45,185.3 L124.7,185.87 L124.95,186.45 L125.2,187.04 L125.45,187.64 L125.7,188.24 L125.95,188.83 L126.2,189.42 L126.45,190.01 L126.7,190.59 L126.95,191.15 L127.2,191.7 L127.45,192.23 L127.7,192.74 L127.95,193.24 L128.2,193.71 L128.45,194.17 L128.7,194.6 L128.95,195.01 L129.2,195.4 L129.45,195.76 L129.7,196.11 L129.95,196.43 L130.2,196.73 L130.45,197.02 L130.7,197.28 L130.95,197.53 L131.2,197.75 L131.45,197.97 L131.7,198.16 L131.95,198.35 L132.2,198.52 L132.45,198.68 L132.7,198.82 L132.95,198.96 L133.2,199.08 L133.45,199.2 L133.7,199.31 L133.95,199.41 L134.2,199.51 L134.45,199.6 L134.7,199.68 L134.95,199.76 L135.2,199.84 L135.45,199.91 L135.7,199.97" fill="none" stroke="#f27a8a" stroke-width="1.1"/>
<path d="M140.2,200.43 L140.45,200.39 L140.7,200.35 L140.95,200.3 L141.2,200.23 L141.45,200.15 L141.7,200.06 L141.95,199.94 L142.2,199.81 L142.45,199.66 L142.7,199.49 L142.95,199.3 L143.2,199.07 L143.45,198.82 L143.7,198.54 L143.95,198.22 L144.2,197.87 L144.45,197.48 L144.7,197.04 L144.95,196.56 L145.2,196.04 L145.45,195.46 L145.7,194.82 L145.95,194.13 L146.2,193.37 L146.45,192.56 L146.7,191.68 L146.95,190.74 L147.2,189.74 L147.45,188.67 L147.7,187.53 L147.95,186.33 L148.2,185.07 L148.45,183.74 L148.7,182.36 L148.95,180.92 L149.2,179.42 L149.45,177.87 L149.7,176.28 L149.95,174.65 L150.2,172.99 L150.45,171.32 L150.7,169.64 L150.95,167.96 L151.2,166.29 L151.45,164.62 L151.7,162.97 L151.95,161.35 L152.2,159.75 L152.45,158.19 L152.7,156.67 L152.95,155.21 L153.2,153.8 L153.45,152.46 L153.7,151.21 L153.95,150.06 L154.2,149.01 L154.45,148.07 L154.7,147.26 L154.95,146.58 L155.2,146.03 L155.45,145.63 L155.7,145.37 L155.95,145.27 L156.2,145.31 L156.45,145.54 L156.7,145.96 L156.95,146.58 L157.2,147.39 L157.45,148.38 L157.7,149.56 L157.95,150.9 L158.2,152.41 L158.45,154.06 L158.7,155.85 L158.95,157.76 L159.2,159.8 L159.45,161.93 L159.7,164.14 L159.95,166.42 L160.2,168.75 L160.45,171.11 L160.7,173.49 L160.95,175.86 L161.2,178.23 L161.45,180.56 L161.7,182.86 L161.95,185.1 L162.2,187.28 L162.45,189.42 L162.7,191.49 L162.95,193.49 L163.2,195.42 L163.45,197.26 L163.7,199.02 L163.95,200.7 L164.2,202.28 L164.45,203.77 L164.7,205.16 L164.95,206.46 L165.2,207.67 L165.45,208.78 L165.7,209.8 L165.95,210.75 L166.2,211.62 L166.45,212.42 L166.7,213.17 L166.95,213.85 L167.2,214.47 L167.45,215.05 L167.7,215.57 L167.95,216.06 L168.2,216.5 L168.45,216.9 L168.7,217.27 L168.95,217.61 L169.2,217.91 L169.45,218.2 L169.7,218.45 L169.95,218.68 L170.2,218.9 L170.2,219.28 L169.95,219.14 L169.7,219 L169.45,218.85 L169.2,218.69 L168.95,218.52 L168.7,218.34 L168.45,218.16 L168.2,217.97 L167.95,217.77 L167.7,217.57 L167.45,217.36 L167.2,217.14 L166.95,216.92 L166.7,216.69 L166.45,216.45 L166.2,216.21 L165.95,215.96 L165.7,215.7 L165.45,215.44 L165.2,215.16 L164.95,214.86 L164.7,214.55 L164.45,214.23 L164.2,213.9 L163.95,213.56 L163.7,213.22 L163.45,212.88 L163.2,212.54 L162.95,212.2 L162.7,211.87 L162.45,211.55 L162.2,211.24 L161.95,210.94 L161.7,210.65 L161.45,210.35 L161.2,210.05 L160.95,209.76 L160.7,209.47 L160.45,209.18 L160.2,208.91 L159.95,208.64 L159.7,208.38 L159.45,208.14 L159.2,207.91 L158.95,207.69 L158.7,207.5 L158.45,207.32 L158.2,207.15 L157.95,206.99 L157.7,206.83 L157.45,206.68 L157.2,206.54 L156.95,206.4 L156.7,206.27 L156.45,206.14 L156.2,206.01 L155.95,205.89 L155.7,205.77 L155.45,205.65 L155.2,205.53 L154.95,205.41 L154.7,205.29 L154.45,205.17 L154.2,205.04 L153.95,204.91 L153.7,204.78 L153.45,204.64 L153.2,204.5 L152.95,204.35 L152.7,204.18 L152.45,204.01 L152.2,203.83 L151.95,203.64 L151.7,203.46 L151.45,203.28 L151.2,203.1 L150.95,202.94 L150.7,202.79 L150.45,202.65 L150.2,202.54 L149.95,202.44 L149.7,202.36 L149.45,202.28 L149.2,202.2 L148.95,202.13 L148.7,202.06 L148.45,202 L148.2,201.95 L147.95,201.89 L147.7,201.84 L147.45,201.8 L147.2,201.75 L146.95,201.71 L146.7,201.67 L146.45,201.63 L146.2,201.59 L145.95,201.55 L145.7,201.51 L145.45,201.47 L145.2,201.43 L144.95,201.39 L144.7,201.35 L144.45,201.31 L144.2,201.28 L143.95,201.24 L143.7,201.21 L143.45,201.17 L143.2,201.14 L142.95,201.11 L142.7,201.08 L142.45,201.05 L142.2,201.02 L141.95,200.99 L141.7,200.96 L141.45,200.93 L141.2,200.9 L140.95,200.88 L140.7,200.85 L140.45,200.82 L140.2,200.79Z" fill="#f9a9b6" fill-opacity="0.7" stroke="none"/>
<path d="M140.2,200.43 L140.45,200.39 L140.7,200.35 L140.95,200.3 L141.2,200.23 L141.45,200.15 L141.7,200.06 L141.95,199.94 L142.2,199.81 L142.45,199.66 L142.7,199.49 L142.95,199.3 L143.2,199.07 L143.45,198.82 L143.7,198.54 L143.95,198.22 L144.2,197.87 L144.45,197.48 L144.7,197.04 L144.95,196.56 L145.2,196.04 L145.45,195.46 L145.7,194.82 L145.95,194.13 L146.2,193.37 L146.45,192.56 L146.7,191.68 L146.95,190.74 L147.2,189.74 L147.45,188.67 L147.7,187.53 L147.95,186.33 L148.2,185.07 L148.45,183.74 L148.7,182.36 L148.95,180.92 L149.2,179.42 L149.45,177.87 L149.7,176.28 L149.95,174.65 L150.2,172.99 L150.45,171.32 L150.7,169.64 L150.95,167.96 L151.2,166.29 L151.45,164.62 L151.7,162.97 L151.95,161.35 L152.2,159.75 L152.45,158.19 L152.7,156.67 L152.95,155.21 L153.2,153.8 L153.45,152.46 L153.7,151.21 L153.95,150.06 L154.2,149.01 L154.45,148.07 L154.7,147.26 L154.95,146.58 L155.2,146.03 L155.45,145.63 L155.7,145.37 L155.95,145.27 L156.2,145.31 L156.45,145.54 L156.7,145.96 L156.95,146.58 L157.2,147.39 L157.45,148.38 L157.7,149.56 L157.95,150.9 L158.2,152.41 L158.45,154.06 L158.7,155.85 L158.95,157.76 L159.2,159.8 L159.45,161.93 L159.7,164.14 L159.95,166.42 L160.2,168.75 L160.45,171.11 L160.7,173.49 L160.95,175.86 L161.2,178.23 L161.45,180.56 L161.7,182.86 L161.95,185.1 L162.2,187.28 L162.45,189.42 L162.7,191.49 L162.95,193.49 L163.2,195.42 L163.45,197.26 L163.7,199.02 L163.95,200.7 L164.2,202.28 L164.45,203.77 L164.7,205.16 L164.95,206.46 L165.2,207.67 L165.45,208.78 L165.7,209.8 L165.95,210.75 L166.2,211.62 L166.45,212.42 L166.7,213.17 L166.95,213.85 L167.2,214.47 L167.45,215.05 L167.7,215.57 L167.95,216.06 L168.2,216.5 L168.45,216.9 L168.7,217.27 L168.95,217.61 L169.2,217.91 L169.45,218.2 L169.7,218.45 L169.95,218.68 L170.2,218.9" fill="none" stroke="#f27a8a" stroke-width="1.1"/>
<path d="M161.7,210.33 L161.95,210.44 L162.2,210.46 L162.45,210.37 L162.7,210.13 L162.95,209.68 L163.2,208.99 L163.45,207.99 L163.7,206.65 L163.95,204.94 L164.2,202.86 L164.45,200.45 L164.7,197.75 L164.95,194.89 L165.2,191.97 L165.45,189.18 L165.7,186.68 L165.95,184.65 L166.2,183.25 L166.45,182.6 L166.7,182.75 L166.95,183.72 L167.2,185.45 L167.45,187.83 L167.7,190.73 L167.95,193.96 L168.2,197.35 L168.45,200.74 L168.7,203.97 L168.95,206.96 L169.2,209.61 L169.45,211.89 L169.7,213.8 L169.95,215.35 L170.2,216.57 L170.45,217.53 L170.7,218.25 L170.95,218.79 L171.2,219.2 L171.45,219.5 L171.7,219.72 L171.7,219.93 L171.45,219.84 L171.2,219.74 L170.95,219.64 L170.7,219.53 L170.45,219.41 L170.2,219.28 L169.95,219.14 L169.7,219 L169.45,218.85 L169.2,218.69 L168.95,218.52 L168.7,218.34 L168.45,218.16 L168.2,217.97 L167.95,217.77 L167.7,217.57 L167.45,217.36 L167.2,217.14 L166.95,216.92 L166.7,216.69 L166.45,216.45 L166.2,216.21 L165.95,215.96 L165.7,215.7 L165.45,215.44 L165.2,215.16 L164.95,214.86 L164.7,214.55 L164.45,214.23 L164.2,213.9 L163.95,213.56 L163.7,213.22 L163.45,212.88 L163.2,212.54 L162.95,212.2 L162.7,211.87 L162.45,211.55 L162.2,211.24 L161.95,210.94 L161.7,210.65Z" fill="#a8dc88" fill-opacity="0.7" stroke="none"/>
<path d="M161.7,210.33 L161.95,210.44 L162.2,210.46 L162.45,210.37 L162.7,210.13 L162.95,209.68 L163.2,208.99 L163.45,207.99 L163.7,206.65 L163.95,204.94 L164.2,202.86 L164.45,200.45 L164.7,197.75 L164.95,194.89 L165.2,191.97 L165.45,189.18 L165.7,186.68 L165.95,184.65 L166.2,183.25 L166.45,182.6 L166.7,182.75 L166.95,183.72 L167.2,185.45 L167.45,187.83 L167.7,190.73 L167.95,193.96 L168.2,197.35 L168.45,200.74 L168.7,203.97 L168.95,206.96 L169.2,209.61 L169.45,211.89 L169.7,213.8 L169.95,215.35 L170.2,216.57 L170.45,217.53 L170.7,218.25 L170.95,218.79 L171.2,219.2 L171.45,219.5 L171.7,219.72" fill="none" stroke="#8fcf5a" stroke-width="1.1"/>
<path d="M107.2,195.8C109.33,196.08 116.2,196.97 120,197.5C123.8,198.03 126.98,198.5 130,199C133.02,199.5 135.6,200.1 138.1,200.5C140.6,200.9 143,201.07 145,201.4C147,201.73 148.73,201.98 150.1,202.5C151.47,203.02 151.77,203.67 153.2,204.5C154.63,205.33 157.23,206.42 158.7,207.5C160.17,208.58 160.85,209.65 162,211C163.15,212.35 164.32,214.27 165.6,215.6C166.88,216.93 168.3,218.17 169.7,219C171.1,219.83 172.53,220.23 174,220.6C175.47,220.97 177.75,221.1 178.5,221.2" fill="none" stroke="#111" stroke-width="1.5" stroke-dasharray="3 1.6"/>
<path d="M21.92,153.62a1.15,2.2 0 1,0 2.3,0a1.15,2.2 0 1,0 -2.3,0M22.43,154.66a1.15,2.2 0 1,0 2.3,0a1.15,2.2 0 1,0 -2.3,0M22.95,153.89a1.15,2.2 0 1,0 2.3,0a1.15,2.2 0 1,0 -2.3,0M23.46,153.15a1.15,2.2 0 1,0 2.3,0a1.15,2.2 0 1,0 -2.3,0M24.03,152.98a1.15,2.2 0 1,0 2.3,0a1.15,2.2 0 1,0 -2.3,0M24.33,150.97a1.15,2.2 0 1,0 2.3,0a1.15,2.2 0 1,0 -2.3,0M24.7,151.99a1.15,2.2 0 1,0 2.3,0a1.15,2.2 0 1,0 -2.3,0M25.18,147.46a1.15,2.2 0 1,0 2.3,0a1.15,2.2 0 1,0 -2.3,0M26.24,152.28a1.15,2.2 0 1,0 2.3,0a1.15,2.2 0 1,0 -2.3,0M26.52,148.53a1.15,2.2 0 1,0 2.3,0a1.15,2.2 0 1,0 -2.3,0M26.74,151.14a1.15,2.2 0 1,0 2.3,0a1.15,2.2 0 1,0 -2.3,0M27.19,148.79a1.15,2.2 0 1,0 2.3,0a1.15,2.2 0 1,0 -2.3,0M27.76,148.39a1.15,2.2 0 1,0 2.3,0a1.15,2.2 0 1,0 -2.3,0M28.43,148.63a1.15,2.2 0 1,0 2.3,0a1.15,2.2 0 1,0 -2.3,0M28.91,149.2a1.15,2.2 0 1,0 2.3,0a1.15,2.2 0 1,0 -2.3,0M29.53,145.81a1.15,2.2 0 1,0 2.3,0a1.15,2.2 0 1,0 -2.3,0M29.95,146.49a1.15,2.2 0 1,0 2.3,0a1.15,2.2 0 1,0 -2.3,0M30.32,145.75a1.15,2.2 0 1,0 2.3,0a1.15,2.2 0 1,0 -2.3,0M31.25,151.27a1.15,2.2 0 1,0 2.3,0a1.15,2.2 0 1,0 -2.3,0M31.57,147.75a1.15,2.2 0 1,0 2.3,0a1.15,2.2 0 1,0 -2.3,0M31.84,148.37a1.15,2.2 0 1,0 2.3,0a1.15,2.2 0 1,0 -2.3,0M32.19,150.15a1.15,2.2 0 1,0 2.3,0a1.15,2.2 0 1,0 -2.3,0M33.11,146.09a1.15,2.2 0 1,0 2.3,0a1.15,2.2 0 1,0 -2.3,0M33.38,151.76a1.15,2.2 0 1,0 2.3,0a1.15,2.2 0 1,0 -2.3,0M34.22,150.2a1.15,2.2 0 1,0 2.3,0a1.15,2.2 0 1,0 -2.3,0M34.28,150.71a1.15,2.2 0 1,0 2.3,0a1.15,2.2 0 1,0 -2.3,0M35.2,146.2a1.15,2.2 0 1,0 2.3,0a1.15,2.2 0 1,0 -2.3,0M35.39,153.2a1.15,2.2 0 1,0 2.3,0a1.15,2.2 0 1,0 -2.3,0M35.69,150.83a1.15,2.2 0 1,0 2.3,0a1.15,2.2 0 1,0 -2.3,0M36.31,151.75a1.15,2.2 0 1,0 2.3,0a1.15,2.2 0 1,0 -2.3,0M36.7,152.88a1.15,2.2 0 1,0 2.3,0a1.15,2.2 0 1,0 -2.3,0M37.6,160.8a1.15,2.2 0 1,0 2.3,0a1.15,2.2 0 1,0 -2.3,0M37.72,157.85a1.15,2.2 0 1,0 2.3,0a1.15,2.2 0 1,0 -2.3,0M38.19,160.02a1.15,2.2 0 1,0 2.3,0a1.15,2.2 0 1,0 -2.3,0M39.13,161.51a1.15,2.2 0 1,0 2.3,0a1.15,2.2 0 1,0 -2.3,0M39.42,163.89a1.15,2.2 0 1,0 2.3,0a1.15,2.2 0 1,0 -2.3,0M39.76,162.78a1.15,2.2 0 1,0 2.3,0a1.15,2.2 0 1,0 -2.3,0M40.54,162.99a1.15,2.2 0 1,0 2.3,0a1.15,2.2 0 1,0 -2.3,0M40.72,163.8a1.15,2.2 0 1,0 2.3,0a1.15,2.2 0 1,0 -2.3,0M41.31,166.41a1.15,2.2 0 1,0 2.3,0a1.15,2.2 0 1,0 -2.3,0M42.23,167.03a1.15,2.2 0 1,0 2.3,0a1.15,2.2 0 1,0 -2.3,0M42.68,165.61a1.15,2.2 0 1,0 2.3,0a1.15,2.2 0 1,0 -2.3,0M42.78,164.76a1.15,2.2 0 1,0 2.3,0a1.15,2.2 0 1,0 -2.3,0M43.54,170.49a1.15,2.2 0 1,0 2.3,0a1.15,2.2 0 1,0 -2.3,0M43.71,169.95a1.15,2.2 0 1,0 2.3,0a1.15,2.2 0 1,0 -2.3,0M44.3,168.95a1.15,2.2 0 1,0 2.3,0a1.15,2.2 0 1,0 -2.3,0M45.11,168.66a1.15,2.2 0 1,0 2.3,0a1.15,2.2 0 1,0 -2.3,0M45.19,171.17a1.15,2.2 0 1,0 2.3,0a1.15,2.2 0 1,0 -2.3,0M45.7,168.89a1.15,2.2 0 1,0 2.3,0a1.15,2.2 0 1,0 -2.3,0M46.51,169.77a1.15,2.2 0 1,0 2.3,0a1.15,2.2 0 1,0 -2.3,0M46.87,166.17a1.15,2.2 0 1,0 2.3,0a1.15,2.2 0 1,0 -2.3,0M47.44,172.39a1.15,2.2 0 1,0 2.3,0a1.15,2.2 0 1,0 -2.3,0M47.99,171.97a1.15,2.2 0 1,0 2.3,0a1.15,2.2 0 1,0 -2.3,0M48.24,170.39a1.15,2.2 0 1,0 2.3,0a1.15,2.2 0 1,0 -2.3,0M49.2,171.97a1.15,2.2 0 1,0 2.3,0a1.15,2.2 0 1,0 -2.3,0M49.26,170.14a1.15,2.2 0 1,0 2.3,0a1.15,2.2 0 1,0 -2.3,0M50.09,172.68a1.15,2.2 0 1,0 2.3,0a1.15,2.2 0 1,0 -2.3,0M50.72,171.13a1.15,2.2 0 1,0 2.3,0a1.15,2.2 0 1,0 -2.3,0M51.18,170.09a1.15,2.2 0 1,0 2.3,0a1.15,2.2 0 1,0 -2.3,0M51.21,170.53a1.15,2.2 0 1,0 2.3,0a1.15,2.2 0 1,0 -2.3,0M51.67,173.1a1.15,2.2 0 1,0 2.3,0a1.15,2.2 0 1,0 -2.3,0M52.57,171.33a1.15,2.2 0 1,0 2.3,0a1.15,2.2 0 1,0 -2.3,0M52.8,172.62a1.15,2.2 0 1,0 2.3,0a1.15,2.2 0 1,0 -2.3,0M53.33,168.87a1.15,2.2 0 1,0 2.3,0a1.15,2.2 0 1,0 -2.3,0M53.76,170.6a1.15,2.2 0 1,0 2.3,0a1.15,2.2 0 1,0 -2.3,0M54.29,169.5a1.15,2.2 0 1,0 2.3,0a1.15,2.2 0 1,0 -2.3,0M54.99,171.16a1.15,2.2 0 1,0 2.3,0a1.15,2.2 0 1,0 -2.3,0M55.32,166.8a1.15,2.2 0 1,0 2.3,0a1.15,2.2 0 1,0 -2.3,0M56.2,168.24a1.15,2.2 0 1,0 2.3,0a1.15,2.2 0 1,0 -2.3,0M56.31,167.67a1.15,2.2 0 1,0 2.3,0a1.15,2.2 0 1,0 -2.3,0M56.92,167.58a1.15,2.2 0 1,0 2.3,0a1.15,2.2 0 1,0 -2.3,0M57.37,166.02a1.15,2.2 0 1,0 2.3,0a1.15,2.2 0 1,0 -2.3,0M57.99,165.86a1.15,2.2 0 1,0 2.3,0a1.15,2.2 0 1,0 -2.3,0M58.68,164.99a1.15,2.2 0 1,0 2.3,0a1.15,2.2 0 1,0 -2.3,0M59.24,161.05a1.15,2.2 0 1,0 2.3,0a1.15,2.2 0 1,0 -2.3,0M59.5,159.21a1.15,2.2 0 1,0 2.3,0a1.15,2.2 0 1,0 -2.3,0M59.73,160.96a1.15,2.2 0 1,0 2.3,0a1.15,2.2 0 1,0 -2.3,0M60.7,159.64a1.15,2.2 0 1,0 2.3,0a1.15,2.2 0 1,0 -2.3,0M61.07,158.91a1.15,2.2 0 1,0 2.3,0a1.15,2.2 0 1,0 -2.3,0M61.53,157.42a1.15,2.2 0 1,0 2.3,0a1.15,2.2 0 1,0 -2.3,0M61.94,156.3a1.15,2.2 0 1,0 2.3,0a1.15,2.2 0 1,0 -2.3,0M62.75,153.81a1.15,2.2 0 1,0 2.3,0a1.15,2.2 0 1,0 -2.3,0M62.7,151.42a1.15,2.2 0 1,0 2.3,0a1.15,2.2 0 1,0 -2.3,0M63.69,152.42a1.15,2.2 0 1,0 2.3,0a1.15,2.2 0 1,0 -2.3,0M64.09,151.24a1.15,2.2 0 1,0 2.3,0a1.15,2.2 0 1,0 -2.3,0M64.7,147.9a1.15,2.2 0 1,0 2.3,0a1.15,2.2 0 1,0 -2.3,0M64.86,148.45a1.15,2.2 0 1,0 2.3,0a1.15,2.2 0 1,0 -2.3,0M65.67,145.3a1.15,2.2 0 1,0 2.3,0a1.15,2.2 0 1,0 -2.3,0M65.9,149.05a1.15,2.2 0 1,0 2.3,0a1.15,2.2 0 1,0 -2.3,0M66.49,143.53a1.15,2.2 0 1,0 2.3,0a1.15,2.2 0 1,0 -2.3,0M67.02,144.54a1.15,2.2 0 1,0 2.3,0a1.15,2.2 0 1,0 -2.3,0M67.52,147.42a1.15,2.2 0 1,0 2.3,0a1.15,2.2 0 1,0 -2.3,0M67.7,141.32a1.15,2.2 0 1,0 2.3,0a1.15,2.2 0 1,0 -2.3,0M68.68,140.11a1.15,2.2 0 1,0 2.3,0a1.15,2.2 0 1,0 -2.3,0M69.09,141.97a1.15,2.2 0 1,0 2.3,0a1.15,2.2 0 1,0 -2.3,0M69.5,145.98a1.15,2.2 0 1,0 2.3,0a1.15,2.2 0 1,0 -2.3,0M69.91,144.04a1.15,2.2 0 1,0 2.3,0a1.15,2.2 0 1,0 -2.3,0M70.6,142.56a1.15,2.2 0 1,0 2.3,0a1.15,2.2 0 1,0 -2.3,0M70.67,141.02a1.15,2.2 0 1,0 2.3,0a1.15,2.2 0 1,0 -2.3,0M71.29,140.92a1.15,2.2 0 1,0 2.3,0a1.15,2.2 0 1,0 -2.3,0M72.07,138.9a1.15,2.2 0 1,0 2.3,0a1.15,2.2 0 1,0 -2.3,0M72.7,140.64a1.15,2.2 0 1,0 2.3,0a1.15,2.2 0 1,0 -2.3,0M72.8,140.79a1.15,2.2 0 1,0 2.3,0a1.15,2.2 0 1,0 -2.3,0M73.56,137.55a1.15,2.2 0 1,0 2.3,0a1.15,2.2 0 1,0 -2.3,0M73.77,137.53a1.15,2.2 0 1,0 2.3,0a1.15,2.2 0 1,0 -2.3,0M74.55,137.22a1.15,2.2 0 1,0 2.3,0a1.15,2.2 0 1,0 -2.3,0M74.92,132.55a1.15,2.2 0 1,0 2.3,0a1.15,2.2 0 1,0 -2.3,0M75.55,127.82a1.15,2.2 0 1,0 2.3,0a1.15,2.2 0 1,0 -2.3,0M75.77,123.77a1.15,2.2 0 1,0 2.3,0a1.15,2.2 0 1,0 -2.3,0M76.7,126.31a1.15,2.2 0 1,0 2.3,0a1.15,2.2 0 1,0 -2.3,0M77.18,121.7a1.15,2.2 0 1,0 2.3,0a1.15,2.2 0 1,0 -2.3,0M77.34,125.63a1.15,2.2 0 1,0 2.3,0a1.15,2.2 0 1,0 -2.3,0M77.73,123.33a1.15,2.2 0 1,0 2.3,0a1.15,2.2 0 1,0 -2.3,0M78.66,131.08a1.15,2.2 0 1,0 2.3,0a1.15,2.2 0 1,0 -2.3,0M79.08,137.03a1.15,2.2 0 1,0 2.3,0a1.15,2.2 0 1,0 -2.3,0M79.25,140.76a1.15,2.2 0 1,0 2.3,0a1.15,2.2 0 1,0 -2.3,0M79.92,148.05a1.15,2.2 0 1,0 2.3,0a1.15,2.2 0 1,0 -2.3,0M80.4,156.45a1.15,2.2 0 1,0 2.3,0a1.15,2.2 0 1,0 -2.3,0M81.03,160.63a1.15,2.2 0 1,0 2.3,0a1.15,2.2 0 1,0 -2.3,0M81.65,167.99a1.15,2.2 0 1,0 2.3,0a1.15,2.2 0 1,0 -2.3,0M82.24,170.5a1.15,2.2 0 1,0 2.3,0a1.15,2.2 0 1,0 -2.3,0M82.17,173.88a1.15,2.2 0 1,0 2.3,0a1.15,2.2 0 1,0 -2.3,0M83.17,178.42a1.15,2.2 0 1,0 2.3,0a1.15,2.2 0 1,0 -2.3,0M83.49,177.82a1.15,2.2 0 1,0 2.3,0a1.15,2.2 0 1,0 -2.3,0M83.84,178.53a1.15,2.2 0 1,0 2.3,0a1.15,2.2 0 1,0 -2.3,0M84.23,179.48a1.15,2.2 0 1,0 2.3,0a1.15,2.2 0 1,0 -2.3,0M84.92,184.67a1.15,2.2 0 1,0 2.3,0a1.15,2.2 0 1,0 -2.3,0M85.29,182.87a1.15,2.2 0 1,0 2.3,0a1.15,2.2 0 1,0 -2.3,0M85.73,185.94a1.15,2.2 0 1,0 2.3,0a1.15,2.2 0 1,0 -2.3,0M86.42,185.08a1.15,2.2 0 1,0 2.3,0a1.15,2.2 0 1,0 -2.3,0M87.03,183.17a1.15,2.2 0 1,0 2.3,0a1.15,2.2 0 1,0 -2.3,0M87.73,182.93a1.15,2.2 0 1,0 2.3,0a1.15,2.2 0 1,0 -2.3,0M88.06,187.02a1.15,2.2 0 1,0 2.3,0a1.15,2.2 0 1,0 -2.3,0M88.26,188.92a1.15,2.2 0 1,0 2.3,0a1.15,2.2 0 1,0 -2.3,0M88.66,184.38a1.15,2.2 0 1,0 2.3,0a1.15,2.2 0 1,0 -2.3,0M89.26,188.29a1.15,2.2 0 1,0 2.3,0a1.15,2.2 0 1,0 -2.3,0M89.81,186.51a1.15,2.2 0 1,0 2.3,0a1.15,2.2 0 1,0 -2.3,0M90.46,190.96a1.15,2.2 0 1,0 2.3,0a1.15,2.2 0 1,0 -2.3,0M91.02,188.95a1.15,2.2 0 1,0 2.3,0a1.15,2.2 0 1,0 -2.3,0M91.63,187.3a1.15,2.2 0 1,0 2.3,0a1.15,2.2 0 1,0 -2.3,0M92.19,193.28a1.15,2.2 0 1,0 2.3,0a1.15,2.2 0 1,0 -2.3,0M92.58,192.11a1.15,2.2 0 1,0 2.3,0a1.15,2.2 0 1,0 -2.3,0M92.73,187.55a1.15,2.2 0 1,0 2.3,0a1.15,2.2 0 1,0 -2.3,0M93.7,191.16a1.15,2.2 0 1,0 2.3,0a1.15,2.2 0 1,0 -2.3,0M93.88,187.14a1.15,2.2 0 1,0 2.3,0a1.15,2.2 0 1,0 -2.3,0M94.63,189.36a1.15,2.2 0 1,0 2.3,0a1.15,2.2 0 1,0 -2.3,0M95.22,188.62a1.15,2.2 0 1,0 2.3,0a1.15,2.2 0 1,0 -2.3,0M95.27,192.2a1.15,2.2 0 1,0 2.3,0a1.15,2.2 0 1,0 -2.3,0M96.08,192.97a1.15,2.2 0 1,0 2.3,0a1.15,2.2 0 1,0 -2.3,0M96.58,189.6a1.15,2.2 0 1,0 2.3,0a1.15,2.2 0 1,0 -2.3,0M96.78,196.61a1.15,2.2 0 1,0 2.3,0a1.15,2.2 0 1,0 -2.3,0M97.74,189.37a1.15,2.2 0 1,0 2.3,0a1.15,2.2 0 1,0 -2.3,0M97.97,193.11a1.15,2.2 0 1,0 2.3,0a1.15,2.2 0 1,0 -2.3,0M98.7,191.25a1.15,2.2 0 1,0 2.3,0a1.15,2.2 0 1,0 -2.3,0M99.16,192.58a1.15,2.2 0 1,0 2.3,0a1.15,2.2 0 1,0 -2.3,0M99.41,193.87a1.15,2.2 0 1,0 2.3,0a1.15,2.2 0 1,0 -2.3,0M99.98,193.71a1.15,2.2 0 1,0 2.3,0a1.15,2.2 0 1,0 -2.3,0M100.17,191.53a1.15,2.2 0 1,0 2.3,0a1.15,2.2 0 1,0 -2.3,0M101.14,197.1a1.15,2.2 0 1,0 2.3,0a1.15,2.2 0 1,0 -2.3,0M101.25,195.55a1.15,2.2 0 1,0 2.3,0a1.15,2.2 0 1,0 -2.3,0M101.85,194.7a1.15,2.2 0 1,0 2.3,0a1.15,2.2 0 1,0 -2.3,0M102.24,193.63a1.15,2.2 0 1,0 2.3,0a1.15,2.2 0 1,0 -2.3,0M102.96,194.19a1.15,2.2 0 1,0 2.3,0a1.15,2.2 0 1,0 -2.3,0M103.56,191.29a1.15,2.2 0 1,0 2.3,0a1.15,2.2 0 1,0 -2.3,0M104.22,190.25a1.15,2.2 0 1,0 2.3,0a1.15,2.2 0 1,0 -2.3,0M104.2,195.01a1.15,2.2 0 1,0 2.3,0a1.15,2.2 0 1,0 -2.3,0M104.78,193.06a1.15,2.2 0 1,0 2.3,0a1.15,2.2 0 1,0 -2.3,0M105.59,193.9a1.15,2.2 0 1,0 2.3,0a1.15,2.2 0 1,0 -2.3,0M106.03,189.38a1.15,2.2 0 1,0 2.3,0a1.15,2.2 0 1,0 -2.3,0M106.49,190.82a1.15,2.2 0 1,0 2.3,0a1.15,2.2 0 1,0 -2.3,0M106.84,186.77a1.15,2.2 0 1,0 2.3,0a1.15,2.2 0 1,0 -2.3,0M107.69,190.13a1.15,2.2 0 1,0 2.3,0a1.15,2.2 0 1,0 -2.3,0M107.77,188.6a1.15,2.2 0 1,0 2.3,0a1.15,2.2 0 1,0 -2.3,0M108.46,179.44a1.15,2.2 0 1,0 2.3,0a1.15,2.2 0 1,0 -2.3,0M108.99,182.06a1.15,2.2 0 1,0 2.3,0a1.15,2.2 0 1,0 -2.3,0M109.45,181.74a1.15,2.2 0 1,0 2.3,0a1.15,2.2 0 1,0 -2.3,0M110.01,182.9a1.15,2.2 0 1,0 2.3,0a1.15,2.2 0 1,0 -2.3,0M110.46,177.47a1.15,2.2 0 1,0 2.3,0a1.15,2.2 0 1,0 -2.3,0M110.89,176.18a1.15,2.2 0 1,0 2.3,0a1.15,2.2 0 1,0 -2.3,0M111.44,172.05a1.15,2.2 0 1,0 2.3,0a1.15,2.2 0 1,0 -2.3,0M112.06,175.65a1.15,2.2 0 1,0 2.3,0a1.15,2.2 0 1,0 -2.3,0M112.4,173.72a1.15,2.2 0 1,0 2.3,0a1.15,2.2 0 1,0 -2.3,0M113.22,173.57a1.15,2.2 0 1,0 2.3,0a1.15,2.2 0 1,0 -2.3,0M113.43,171.2a1.15,2.2 0 1,0 2.3,0a1.15,2.2 0 1,0 -2.3,0M113.73,168.58a1.15,2.2 0 1,0 2.3,0a1.15,2.2 0 1,0 -2.3,0M114.69,173.24a1.15,2.2 0 1,0 2.3,0a1.15,2.2 0 1,0 -2.3,0M114.94,171.48a1.15,2.2 0 1,0 2.3,0a1.15,2.2 0 1,0 -2.3,0M115.52,173.37a1.15,2.2 0 1,0 2.3,0a1.15,2.2 0 1,0 -2.3,0M116.21,174.79a1.15,2.2 0 1,0 2.3,0a1.15,2.2 0 1,0 -2.3,0M116.16,175.21a1.15,2.2 0 1,0 2.3,0a1.15,2.2 0 1,0 -2.3,0M116.77,173.45a1.15,2.2 0 1,0 2.3,0a1.15,2.2 0 1,0 -2.3,0M117.34,176.08a1.15,2.2 0 1,0 2.3,0a1.15,2.2 0 1,0 -2.3,0M117.86,172.72a1.15,2.2 0 1,0 2.3,0a1.15,2.2 0 1,0 -2.3,0M118.59,172.93a1.15,2.2 0 1,0 2.3,0a1.15,2.2 0 1,0 -2.3,0M118.72,172.34a1.15,2.2 0 1,0 2.3,0a1.15,2.2 0 1,0 -2.3,0M119.27,174.03a1.15,2.2 0 1,0 2.3,0a1.15,2.2 0 1,0 -2.3,0M119.97,172.9a1.15,2.2 0 1,0 2.3,0a1.15,2.2 0 1,0 -2.3,0M120.4,175.84a1.15,2.2 0 1,0 2.3,0a1.15,2.2 0 1,0 -2.3,0M120.97,176.36a1.15,2.2 0 1,0 2.3,0a1.15,2.2 0 1,0 -2.3,0M121.53,177.31a1.15,2.2 0 1,0 2.3,0a1.15,2.2 0 1,0 -2.3,0M122.03,173.15a1.15,2.2 0 1,0 2.3,0a1.15,2.2 0 1,0 -2.3,0M122.52,176.69a1.15,2.2 0 1,0 2.3,0a1.15,2.2 0 1,0 -2.3,0M123.16,178.32a1.15,2.2 0 1,0 2.3,0a1.15,2.2 0 1,0 -2.3,0M123.64,181.71a1.15,2.2 0 1,0 2.3,0a1.15,2.2 0 1,0 -2.3,0M124.19,178.58a1.15,2.2 0 1,0 2.3,0a1.15,2.2 0 1,0 -2.3,0M124.7,181.41a1.15,2.2 0 1,0 2.3,0a1.15,2.2 0 1,0 -2.3,0M124.78,184.54a1.15,2.2 0 1,0 2.3,0a1.15,2.2 0 1,0 -2.3,0M125.23,181.22a1.15,2.2 0 1,0 2.3,0a1.15,2.2 0 1,0 -2.3,0M125.79,181.76a1.15,2.2 0 1,0 2.3,0a1.15,2.2 0 1,0 -2.3,0M126.21,181.25a1.15,2.2 0 1,0 2.3,0a1.15,2.2 0 1,0 -2.3,0M127.15,180.5a1.15,2.2 0 1,0 2.3,0a1.15,2.2 0 1,0 -2.3,0M127.23,185.84a1.15,2.2 0 1,0 2.3,0a1.15,2.2 0 1,0 -2.3,0M127.89,184.94a1.15,2.2 0 1,0 2.3,0a1.15,2.2 0 1,0 -2.3,0M128.27,185.61a1.15,2.2 0 1,0 2.3,0a1.15,2.2 0 1,0 -2.3,0M129.06,191.07a1.15,2.2 0 1,0 2.3,0a1.15,2.2 0 1,0 -2.3,0M129.22,185.1a1.15,2.2 0 1,0 2.3,0a1.15,2.2 0 1,0 -2.3,0M129.95,188.77a1.15,2.2 0 1,0 2.3,0a1.15,2.2 0 1,0 -2.3,0M130.56,187.33a1.15,2.2 0 1,0 2.3,0a1.15,2.2 0 1,0 -2.3,0M130.76,191.31a1.15,2.2 0 1,0 2.3,0a1.15,2.2 0 1,0 -2.3,0M131.17,191.79a1.15,2.2 0 1,0 2.3,0a1.15,2.2 0 1,0 -2.3,0M131.98,189.85a1.15,2.2 0 1,0 2.3,0a1.15,2.2 0 1,0 -2.3,0M132.24,192.95a1.15,2.2 0 1,0 2.3,0a1.15,2.2 0 1,0 -2.3,0M132.76,195.07a1.15,2.2 0 1,0 2.3,0a1.15,2.2 0 1,0 -2.3,0M133.74,198.33a1.15,2.2 0 1,0 2.3,0a1.15,2.2 0 1,0 -2.3,0M134.21,196.2a1.15,2.2 0 1,0 2.3,0a1.15,2.2 0 1,0 -2.3,0M134.72,196.83a1.15,2.2 0 1,0 2.3,0a1.15,2.2 0 1,0 -2.3,0M134.93,197.42a1.15,2.2 0 1,0 2.3,0a1.15,2.2 0 1,0 -2.3,0M135.43,196.39a1.15,2.2 0 1,0 2.3,0a1.15,2.2 0 1,0 -2.3,0M135.96,196.51a1.15,2.2 0 1,0 2.3,0a1.15,2.2 0 1,0 -2.3,0M136.16,200.67a1.15,2.2 0 1,0 2.3,0a1.15,2.2 0 1,0 -2.3,0M137.07,200.92a1.15,2.2 0 1,0 2.3,0a1.15,2.2 0 1,0 -2.3,0M137.42,199.85a1.15,2.2 0 1,0 2.3,0a1.15,2.2 0 1,0 -2.3,0M138.09,200.33a1.15,2.2 0 1,0 2.3,0a1.15,2.2 0 1,0 -2.3,0M138.25,202.47a1.15,2.2 0 1,0 2.3,0a1.15,2.2 0 1,0 -2.3,0M138.96,206.03a1.15,2.2 0 1,0 2.3,0a1.15,2.2 0 1,0 -2.3,0M139.63,202.41a1.15,2.2 0 1,0 2.3,0a1.15,2.2 0 1,0 -2.3,0M140.07,203.52a1.15,2.2 0 1,0 2.3,0a1.15,2.2 0 1,0 -2.3,0M140.39,199.37a1.15,2.2 0 1,0 2.3,0a1.15,2.2 0 1,0 -2.3,0M141.01,195.53a1.15,2.2 0 1,0 2.3,0a1.15,2.2 0 1,0 -2.3,0M141.63,200.27a1.15,2.2 0 1,0 2.3,0a1.15,2.2 0 1,0 -2.3,0M141.8,202.56a1.15,2.2 0 1,0 2.3,0a1.15,2.2 0 1,0 -2.3,0M142.62,197.64a1.15,2.2 0 1,0 2.3,0a1.15,2.2 0 1,0 -2.3,0M143.14,195.19a1.15,2.2 0 1,0 2.3,0a1.15,2.2 0 1,0 -2.3,0M143.68,199.87a1.15,2.2 0 1,0 2.3,0a1.15,2.2 0 1,0 -2.3,0M144.07,196.8a1.15,2.2 0 1,0 2.3,0a1.15,2.2 0 1,0 -2.3,0M144.39,191.91a1.15,2.2 0 1,0 2.3,0a1.15,2.2 0 1,0 -2.3,0M145.08,195.24a1.15,2.2 0 1,0 2.3,0a1.15,2.2 0 1,0 -2.3,0M145.43,192.84a1.15,2.2 0 1,0 2.3,0a1.15,2.2 0 1,0 -2.3,0M145.66,188.74a1.15,2.2 0 1,0 2.3,0a1.15,2.2 0 1,0 -2.3,0M146.52,190.78a1.15,2.2 0 1,0 2.3,0a1.15,2.2 0 1,0 -2.3,0M146.79,189.47a1.15,2.2 0 1,0 2.3,0a1.15,2.2 0 1,0 -2.3,0M147.35,183.85a1.15,2.2 0 1,0 2.3,0a1.15,2.2 0 1,0 -2.3,0M148.05,180.23a1.15,2.2 0 1,0 2.3,0a1.15,2.2 0 1,0 -2.3,0M148.38,178.31a1.15,2.2 0 1,0 2.3,0a1.15,2.2 0 1,0 -2.3,0M149.25,173.98a1.15,2.2 0 1,0 2.3,0a1.15,2.2 0 1,0 -2.3,0M149.61,169.81a1.15,2.2 0 1,0 2.3,0a1.15,2.2 0 1,0 -2.3,0M150.24,170.89a1.15,2.2 0 1,0 2.3,0a1.15,2.2 0 1,0 -2.3,0M150.59,164.87a1.15,2.2 0 1,0 2.3,0a1.15,2.2 0 1,0 -2.3,0M150.8,160.34a1.15,2.2 0 1,0 2.3,0a1.15,2.2 0 1,0 -2.3,0M151.27,157.48a1.15,2.2 0 1,0 2.3,0a1.15,2.2 0 1,0 -2.3,0M151.88,154.73a1.15,2.2 0 1,0 2.3,0a1.15,2.2 0 1,0 -2.3,0M152.69,151.26a1.15,2.2 0 1,0 2.3,0a1.15,2.2 0 1,0 -2.3,0M152.98,142.83a1.15,2.2 0 1,0 2.3,0a1.15,2.2 0 1,0 -2.3,0M153.49,145.31a1.15,2.2 0 1,0 2.3,0a1.15,2.2 0 1,0 -2.3,0M154.25,141.4a1.15,2.2 0 1,0 2.3,0a1.15,2.2 0 1,0 -2.3,0M154.2,139.31a1.15,2.2 0 1,0 2.3,0a1.15,2.2 0 1,0 -2.3,0M155.01,140.68a1.15,2.2 0 1,0 2.3,0a1.15,2.2 0 1,0 -2.3,0M155.71,139.35a1.15,2.2 0 1,0 2.3,0a1.15,2.2 0 1,0 -2.3,0M155.75,139.02a1.15,2.2 0 1,0 2.3,0a1.15,2.2 0 1,0 -2.3,0M156.45,140.97a1.15,2.2 0 1,0 2.3,0a1.15,2.2 0 1,0 -2.3,0M157.02,145.1a1.15,2.2 0 1,0 2.3,0a1.15,2.2 0 1,0 -2.3,0M157.4,141.13a1.15,2.2 0 1,0 2.3,0a1.15,2.2 0 1,0 -2.3,0M157.97,135a1.15,2.2 0 1,0 2.3,0a1.15,2.2 0 1,0 -2.3,0M158.32,130.93a1.15,2.2 0 1,0 2.3,0a1.15,2.2 0 1,0 -2.3,0M159.04,124.28a1.15,2.2 0 1,0 2.3,0a1.15,2.2 0 1,0 -2.3,0M159.58,117.42a1.15,2.2 0 1,0 2.3,0a1.15,2.2 0 1,0 -2.3,0M159.83,110.39a1.15,2.2 0 1,0 2.3,0a1.15,2.2 0 1,0 -2.3,0M160.18,99.15a1.15,2.2 0 1,0 2.3,0a1.15,2.2 0 1,0 -2.3,0M160.74,88.83a1.15,2.2 0 1,0 2.3,0a1.15,2.2 0 1,0 -2.3,0M161.69,76.15a1.15,2.2 0 1,0 2.3,0a1.15,2.2 0 1,0 -2.3,0M162.1,73.53a1.15,2.2 0 1,0 2.3,0a1.15,2.2 0 1,0 -2.3,0M162.72,60.71a1.15,2.2 0 1,0 2.3,0a1.15,2.2 0 1,0 -2.3,0M162.69,52.91a1.15,2.2 0 1,0 2.3,0a1.15,2.2 0 1,0 -2.3,0M163.44,44.78a1.15,2.2 0 1,0 2.3,0a1.15,2.2 0 1,0 -2.3,0M164.23,43.23a1.15,2.2 0 1,0 2.3,0a1.15,2.2 0 1,0 -2.3,0M164.71,46.05a1.15,2.2 0 1,0 2.3,0a1.15,2.2 0 1,0 -2.3,0M165.08,42.44a1.15,2.2 0 1,0 2.3,0a1.15,2.2 0 1,0 -2.3,0M165.64,57.06a1.15,2.2 0 1,0 2.3,0a1.15,2.2 0 1,0 -2.3,0M166.01,71.79a1.15,2.2 0 1,0 2.3,0a1.15,2.2 0 1,0 -2.3,0M166.42,89.6a1.15,2.2 0 1,0 2.3,0a1.15,2.2 0 1,0 -2.3,0M166.77,113.02a1.15,2.2 0 1,0 2.3,0a1.15,2.2 0 1,0 -2.3,0M167.22,134.45a1.15,2.2 0 1,0 2.3,0a1.15,2.2 0 1,0 -2.3,0M167.92,154.96a1.15,2.2 0 1,0 2.3,0a1.15,2.2 0 1,0 -2.3,0M168.31,173.27a1.15,2.2 0 1,0 2.3,0a1.15,2.2 0 1,0 -2.3,0M169,187.12a1.15,2.2 0 1,0 2.3,0a1.15,2.2 0 1,0 -2.3,0M169.47,200.46a1.15,2.2 0 1,0 2.3,0a1.15,2.2 0 1,0 -2.3,0M170.25,207.15a1.15,2.2 0 1,0 2.3,0a1.15,2.2 0 1,0 -2.3,0M170.29,206.62a1.15,2.2 0 1,0 2.3,0a1.15,2.2 0 1,0 -2.3,0M170.72,212.04a1.15,2.2 0 1,0 2.3,0a1.15,2.2 0 1,0 -2.3,0M171.52,208.52a1.15,2.2 0 1,0 2.3,0a1.15,2.2 0 1,0 -2.3,0M171.87,211.21a1.15,2.2 0 1,0 2.3,0a1.15,2.2 0 1,0 -2.3,0M172.49,215.32a1.15,2.2 0 1,0 2.3,0a1.15,2.2 0 1,0 -2.3,0M173.01,211.03a1.15,2.2 0 1,0 2.3,0a1.15,2.2 0 1,0 -2.3,0M173.26,211.39a1.15,2.2 0 1,0 2.3,0a1.15,2.2 0 1,0 -2.3,0M173.8,218.41a1.15,2.2 0 1,0 2.3,0a1.15,2.2 0 1,0 -2.3,0M174.68,214.07a1.15,2.2 0 1,0 2.3,0a1.15,2.2 0 1,0 -2.3,0M174.67,216.32a1.15,2.2 0 1,0 2.3,0a1.15,2.2 0 1,0 -2.3,0M175.41,215.73a1.15,2.2 0 1,0 2.3,0a1.15,2.2 0 1,0 -2.3,0M176.02,217.25a1.15,2.2 0 1,0 2.3,0a1.15,2.2 0 1,0 -2.3,0M176.19,216.92a1.15,2.2 0 1,0 2.3,0a1.15,2.2 0 1,0 -2.3,0M176.7,214.53a1.15,2.2 0 1,0 2.3,0a1.15,2.2 0 1,0 -2.3,0M177.53,213.53a1.15,2.2 0 1,0 2.3,0a1.15,2.2 0 1,0 -2.3,0M177.87,214.45a1.15,2.2 0 1,0 2.3,0a1.15,2.2 0 1,0 -2.3,0M178.36,215.97a1.15,2.2 0 1,0 2.3,0a1.15,2.2 0 1,0 -2.3,0M179.1,216.25a1.15,2.2 0 1,0 2.3,0a1.15,2.2 0 1,0 -2.3,0M179.22,215.29a1.15,2.2 0 1,0 2.3,0a1.15,2.2 0 1,0 -2.3,0M180.14,213.7a1.15,2.2 0 1,0 2.3,0a1.15,2.2 0 1,0 -2.3,0M180.28,213.83a1.15,2.2 0 1,0 2.3,0a1.15,2.2 0 1,0 -2.3,0M180.9,216.02a1.15,2.2 0 1,0 2.3,0a1.15,2.2 0 1,0 -2.3,0M181.37,219.72a1.15,2.2 0 1,0 2.3,0a1.15,2.2 0 1,0 -2.3,0M182.04,218.02a1.15,2.2 0 1,0 2.3,0a1.15,2.2 0 1,0 -2.3,0M182.48,216.29a1.15,2.2 0 1,0 2.3,0a1.15,2.2 0 1,0 -2.3,0M183.1,218.24a1.15,2.2 0 1,0 2.3,0a1.15,2.2 0 1,0 -2.3,0M183.37,215.6a1.15,2.2 0 1,0 2.3,0a1.15,2.2 0 1,0 -2.3,0M183.71,217.19a1.15,2.2 0 1,0 2.3,0a1.15,2.2 0 1,0 -2.3,0M184.2,216.21a1.15,2.2 0 1,0 2.3,0a1.15,2.2 0 1,0 -2.3,0M184.99,214a1.15,2.2 0 1,0 2.3,0a1.15,2.2 0 1,0 -2.3,0M185.33,217.29a1.15,2.2 0 1,0 2.3,0a1.15,2.2 0 1,0 -2.3,0M186.12,218.36a1.15,2.2 0 1,0 2.3,0a1.15,2.2 0 1,0 -2.3,0M186.55,217.99a1.15,2.2 0 1,0 2.3,0a1.15,2.2 0 1,0 -2.3,0M186.7,216.58a1.15,2.2 0 1,0 2.3,0a1.15,2.2 0 1,0 -2.3,0M187.57,220.7a1.15,2.2 0 1,0 2.3,0a1.15,2.2 0 1,0 -2.3,0M187.82,219.17a1.15,2.2 0 1,0 2.3,0a1.15,2.2 0 1,0 -2.3,0M188.59,219.7a1.15,2.2 0 1,0 2.3,0a1.15,2.2 0 1,0 -2.3,0M188.87,220.76a1.15,2.2 0 1,0 2.3,0a1.15,2.2 0 1,0 -2.3,0M189.49,220.81a1.15,2.2 0 1,0 2.3,0a1.15,2.2 0 1,0 -2.3,0M190.2,222.96a1.15,2.2 0 1,0 2.3,0a1.15,2.2 0 1,0 -2.3,0M190.41,217.76a1.15,2.2 0 1,0 2.3,0a1.15,2.2 0 1,0 -2.3,0M191.13,219.01a1.15,2.2 0 1,0 2.3,0a1.15,2.2 0 1,0 -2.3,0M191.39,221.41a1.15,2.2 0 1,0 2.3,0a1.15,2.2 0 1,0 -2.3,0M192.21,221.27a1.15,2.2 0 1,0 2.3,0a1.15,2.2 0 1,0 -2.3,0M192.37,219.55a1.15,2.2 0 1,0 2.3,0a1.15,2.2 0 1,0 -2.3,0M192.87,219.49a1.15,2.2 0 1,0 2.3,0a1.15,2.2 0 1,0 -2.3,0M193.38,222.51a1.15,2.2 0 1,0 2.3,0a1.15,2.2 0 1,0 -2.3,0M193.77,218.3a1.15,2.2 0 1,0 2.3,0a1.15,2.2 0 1,0 -2.3,0M194.47,220.47a1.15,2.2 0 1,0 2.3,0a1.15,2.2 0 1,0 -2.3,0M195.15,221.1a1.15,2.2 0 1,0 2.3,0a1.15,2.2 0 1,0 -2.3,0M195.61,222.15a1.15,2.2 0 1,0 2.3,0a1.15,2.2 0 1,0 -2.3,0M196.18,222.94a1.15,2.2 0 1,0 2.3,0a1.15,2.2 0 1,0 -2.3,0M196.46,223.83a1.15,2.2 0 1,0 2.3,0a1.15,2.2 0 1,0 -2.3,0M196.98,219.33a1.15,2.2 0 1,0 2.3,0a1.15,2.2 0 1,0 -2.3,0" fill="none" stroke="#7b3cc0" stroke-width="0.8"/>
<path d="M106.3,194.5C106.67,193.42 107.78,190.5 108.5,188C109.22,185.5 109.88,181.83 110.6,179.5C111.32,177.17 112.08,175.28 112.8,174C113.52,172.72 114.03,171.97 114.9,171.8C115.77,171.63 117,172.57 118,173C119,173.43 119.27,172.73 120.9,174.4C122.53,176.07 125.5,179.57 127.8,183C130.1,186.43 132.7,191.85 134.7,195C136.7,198.15 138.42,201.07 139.8,201.9C141.18,202.73 142.13,200.87 143,200C143.87,199.13 144.25,198.53 145,196.7C145.75,194.87 146.78,191.58 147.5,189C148.22,186.42 148.57,185.65 149.3,181.2C150.03,176.75 151.2,167.33 151.9,162.3C152.6,157.27 152.98,154.05 153.5,151C154.02,147.95 154.5,145.83 155,144C155.5,142.17 155.95,140.58 156.5,140C157.05,139.42 157.8,141.67 158.3,140.5C158.8,139.33 159.12,136.75 159.5,133C159.88,129.25 160.22,124.33 160.6,118C160.98,111.67 161.4,103 161.8,95C162.2,87 162.6,77.5 163,70C163.4,62.5 163.82,54.5 164.2,50C164.58,45.5 164.93,42.67 165.3,43C165.67,43.33 166.05,45.83 166.4,52C166.75,58.17 167.08,68.67 167.4,80C167.72,91.33 168,106.67 168.3,120C168.6,133.33 168.9,148.33 169.2,160C169.5,171.67 169.77,182.5 170.1,190C170.43,197.5 170.75,201.5 171.2,205C171.65,208.5 172.02,209.37 172.8,211C173.58,212.63 174.53,213.97 175.9,214.8C177.27,215.63 179.28,215.65 181,216C182.72,216.35 184.7,216.48 186.2,216.9C187.7,217.32 188.62,217.82 190,218.5C191.38,219.18 193.12,220.08 194.5,221C195.88,221.92 197.67,223.5 198.3,224" fill="none" stroke="#9a66c8" stroke-width="1.0"/>
<path d="M25.2,202.9H40.3" stroke="#5fcfd6" stroke-width="2.2"/>
<path d="M25.9,216.3H39.8" stroke="#9acd5a" stroke-width="1.2"/>
<path d="M25.9,229.9H39.8" stroke="#f6a1ae" stroke-width="2.2"/>
<text x="43" y="206.5" font-size="9.2" text-anchor="start" font-weight="normal" fill="#222" >Cu(0)</text>
<text x="43" y="219.9" font-size="9.2" text-anchor="start" font-weight="normal" fill="#222" >Cu(I)</text>
<text x="43" y="233.5" font-size="9.2" text-anchor="start" font-weight="normal" fill="#222" >Cu(II)</text>
<text x="150.9" y="35.8" font-size="9.7" text-anchor="start" font-weight="normal" fill="#222" >Cu 2<tspan font-style="italic">p</tspan><tspan font-size="6" dy="3">3/2</tspan></text>
<text x="61.2" y="114.6" font-size="9.7" text-anchor="start" font-weight="normal" fill="#222" >Cu 2<tspan font-style="italic">p</tspan><tspan font-size="6" dy="3">1/2</tspan></text>
<text x="92.6" y="163.5" font-size="9.7" text-anchor="start" font-weight="normal" fill="#222" >Cu<tspan font-size="6" dy="-3.6">2+</tspan><tspan dy="3.6"> satellite</tspan></text>
<path d="M127.3,459.43 L127.55,459.46 L127.8,459.49 L128.05,459.5 L128.3,459.51 L128.55,459.51 L128.8,459.49 L129.05,459.46 L129.3,459.42 L129.55,459.36 L129.8,459.29 L130.05,459.2 L130.3,459.09 L130.55,458.96 L130.8,458.8 L131.05,458.63 L131.3,458.43 L131.55,458.2 L131.8,457.94 L132.05,457.66 L132.3,457.34 L132.55,456.98 L132.8,456.59 L133.05,456.16 L133.3,455.69 L133.55,455.18 L133.8,454.62 L134.05,454.02 L134.3,453.36 L134.55,452.66 L134.8,451.9 L135.05,451.09 L135.3,450.22 L135.55,449.29 L135.8,448.31 L136.05,447.26 L136.3,446.15 L136.55,444.98 L136.8,443.75 L137.05,442.45 L137.3,441.09 L137.55,439.67 L137.8,438.19 L138.05,436.64 L138.3,435.03 L138.55,433.37 L138.8,431.64 L139.05,429.87 L139.3,428.04 L139.55,426.17 L139.8,424.25 L140.05,422.3 L140.3,420.32 L140.55,418.3 L140.8,416.27 L141.05,414.22 L141.3,412.16 L141.55,410.09 L141.8,408.03 L142.05,405.99 L142.3,403.96 L142.55,401.95 L142.8,399.98 L143.05,398.05 L143.3,396.17 L143.55,394.34 L143.8,392.58 L144.05,390.89 L144.3,389.28 L144.55,387.75 L144.8,386.32 L145.05,384.99 L145.3,383.76 L145.55,382.66 L145.8,381.67 L146.05,380.81 L146.3,380.09 L146.55,379.5 L146.8,379.05 L147.05,378.74 L147.3,378.57 L147.55,378.55 L147.8,378.68 L148.05,378.96 L148.3,379.39 L148.55,379.98 L148.8,380.75 L149.05,381.69 L149.3,382.81 L149.55,384.1 L149.8,385.55 L150.05,387.16 L150.3,388.93 L150.55,390.84 L150.8,392.89 L151.05,395.07 L151.3,397.37 L151.55,399.78 L151.8,402.31 L152.05,404.94 L152.3,407.67 L152.55,410.48 L152.8,413.36 L153.05,416.29 L153.3,419.28 L153.55,422.31 L153.8,425.36 L154.05,428.43 L154.3,431.5 L154.55,434.57 L154.8,437.62 L155.05,440.65 L155.3,443.65 L155.55,446.6 L155.8,449.51 L156.05,452.36 L156.3,455.15 L156.55,457.87 L156.8,460.51 L157.05,463.06 L157.3,465.53 L157.55,467.9 L157.8,470.18 L158.05,472.37 L158.3,474.47 L158.55,476.48 L158.8,478.4 L159.05,480.23 L159.3,481.97 L159.55,483.63 L159.8,485.21 L160.05,486.71 L160.3,488.12 L160.55,489.45 L160.8,490.71 L161.05,491.88 L161.3,492.98 L161.55,494 L161.8,494.96 L162.05,495.85 L162.3,496.67 L162.55,497.44 L162.8,498.15 L163.05,498.8 L163.3,499.41 L163.55,499.97 L163.8,500.48 L164.05,500.96 L164.3,501.39 L164.55,501.79 L164.8,502.16 L165.05,502.5 L165.3,502.81 L165.55,503.09 L165.8,503.36 L166.05,503.6 L166.3,503.82 L166.55,504.03 L166.8,504.22 L167.05,504.4 L167.3,504.57 L167.3,505.25 L167.05,505.17 L166.8,505.09 L166.55,505.02 L166.3,504.94 L166.05,504.87 L165.8,504.79 L165.55,504.71 L165.3,504.63 L165.05,504.55 L164.8,504.46 L164.55,504.37 L164.3,504.28 L164.05,504.18 L163.8,504.07 L163.55,503.96 L163.3,503.85 L163.05,503.73 L162.8,503.6 L162.55,503.46 L162.3,503.31 L162.05,503.16 L161.8,502.99 L161.55,502.82 L161.3,502.64 L161.05,502.44 L160.8,502.24 L160.55,502.02 L160.3,501.79 L160.05,501.55 L159.8,501.3 L159.55,501.04 L159.3,500.78 L159.05,500.52 L158.8,500.24 L158.55,499.95 L158.3,499.66 L158.05,499.35 L157.8,499.02 L157.55,498.68 L157.3,498.32 L157.05,497.94 L156.8,497.54 L156.55,497.11 L156.3,496.67 L156.05,496.22 L155.8,495.75 L155.55,495.28 L155.3,494.79 L155.05,494.29 L154.8,493.79 L154.55,493.28 L154.3,492.76 L154.05,492.24 L153.8,491.71 L153.55,491.18 L153.3,490.65 L153.05,490.12 L152.8,489.59 L152.55,489.07 L152.3,488.54 L152.05,488.02 L151.8,487.51 L151.55,487 L151.3,486.5 L151.05,486 L150.8,485.49 L150.55,484.98 L150.3,484.47 L150.05,483.96 L149.8,483.44 L149.55,482.93 L149.3,482.42 L149.05,481.9 L148.8,481.4 L148.55,480.89 L148.3,480.39 L148.05,479.89 L147.8,479.39 L147.55,478.9 L147.3,478.42 L147.05,477.94 L146.8,477.47 L146.55,477.01 L146.3,476.56 L146.05,476.11 L145.8,475.68 L145.55,475.26 L145.3,474.85 L145.05,474.45 L144.8,474.07 L144.55,473.69 L144.3,473.33 L144.05,472.98 L143.8,472.63 L143.55,472.3 L143.3,471.98 L143.05,471.66 L142.8,471.36 L142.55,471.06 L142.3,470.77 L142.05,470.49 L141.8,470.22 L141.55,469.96 L141.3,469.71 L141.05,469.46 L140.8,469.22 L140.55,468.99 L140.3,468.76 L140.05,468.54 L139.8,468.32 L139.55,468.11 L139.3,467.9 L139.05,467.69 L138.8,467.49 L138.55,467.28 L138.3,467.08 L138.05,466.88 L137.8,466.68 L137.55,466.48 L137.3,466.28 L137.05,466.08 L136.8,465.88 L136.55,465.69 L136.3,465.49 L136.05,465.3 L135.8,465.11 L135.55,464.92 L135.3,464.74 L135.05,464.55 L134.8,464.37 L134.55,464.19 L134.3,464.01 L134.05,463.84 L133.8,463.66 L133.55,463.49 L133.3,463.33 L133.05,463.16 L132.8,463 L132.55,462.84 L132.3,462.68 L132.05,462.53 L131.8,462.38 L131.55,462.23 L131.3,462.09 L131.05,461.95 L130.8,461.81 L130.55,461.67 L130.3,461.54 L130.05,461.4 L129.8,461.27 L129.55,461.15 L129.3,461.02 L129.05,460.9 L128.8,460.77 L128.55,460.65 L128.3,460.53 L128.05,460.42 L127.8,460.3 L127.55,460.18 L127.3,460.07Z" fill="#8ad6dc" fill-opacity="0.8" stroke="none"/>
<path d="M127.3,459.43 L127.55,459.46 L127.8,459.49 L128.05,459.5 L128.3,459.51 L128.55,459.51 L128.8,459.49 L129.05,459.46 L129.3,459.42 L129.55,459.36 L129.8,459.29 L130.05,459.2 L130.3,459.09 L130.55,458.96 L130.8,458.8 L131.05,458.63 L131.3,458.43 L131.55,458.2 L131.8,457.94 L132.05,457.66 L132.3,457.34 L132.55,456.98 L132.8,456.59 L133.05,456.16 L133.3,455.69 L133.55,455.18 L133.8,454.62 L134.05,454.02 L134.3,453.36 L134.55,452.66 L134.8,451.9 L135.05,451.09 L135.3,450.22 L135.55,449.29 L135.8,448.31 L136.05,447.26 L136.3,446.15 L136.55,444.98 L136.8,443.75 L137.05,442.45 L137.3,441.09 L137.55,439.67 L137.8,438.19 L138.05,436.64 L138.3,435.03 L138.55,433.37 L138.8,431.64 L139.05,429.87 L139.3,428.04 L139.55,426.17 L139.8,424.25 L140.05,422.3 L140.3,420.32 L140.55,418.3 L140.8,416.27 L141.05,414.22 L141.3,412.16 L141.55,410.09 L141.8,408.03 L142.05,405.99 L142.3,403.96 L142.55,401.95 L142.8,399.98 L143.05,398.05 L143.3,396.17 L143.55,394.34 L143.8,392.58 L144.05,390.89 L144.3,389.28 L144.55,387.75 L144.8,386.32 L145.05,384.99 L145.3,383.76 L145.55,382.66 L145.8,381.67 L146.05,380.81 L146.3,380.09 L146.55,379.5 L146.8,379.05 L147.05,378.74 L147.3,378.57 L147.55,378.55 L147.8,378.68 L148.05,378.96 L148.3,379.39 L148.55,379.98 L148.8,380.75 L149.05,381.69 L149.3,382.81 L149.55,384.1 L149.8,385.55 L150.05,387.16 L150.3,388.93 L150.55,390.84 L150.8,392.89 L151.05,395.07 L151.3,397.37 L151.55,399.78 L151.8,402.31 L152.05,404.94 L152.3,407.67 L152.55,410.48 L152.8,413.36 L153.05,416.29 L153.3,419.28 L153.55,422.31 L153.8,425.36 L154.05,428.43 L154.3,431.5 L154.55,434.57 L154.8,437.62 L155.05,440.65 L155.3,443.65 L155.55,446.6 L155.8,449.51 L156.05,452.36 L156.3,455.15 L156.55,457.87 L156.8,460.51 L157.05,463.06 L157.3,465.53 L157.55,467.9 L157.8,470.18 L158.05,472.37 L158.3,474.47 L158.55,476.48 L158.8,478.4 L159.05,480.23 L159.3,481.97 L159.55,483.63 L159.8,485.21 L160.05,486.71 L160.3,488.12 L160.55,489.45 L160.8,490.71 L161.05,491.88 L161.3,492.98 L161.55,494 L161.8,494.96 L162.05,495.85 L162.3,496.67 L162.55,497.44 L162.8,498.15 L163.05,498.8 L163.3,499.41 L163.55,499.97 L163.8,500.48 L164.05,500.96 L164.3,501.39 L164.55,501.79 L164.8,502.16 L165.05,502.5 L165.3,502.81 L165.55,503.09 L165.8,503.36 L166.05,503.6 L166.3,503.82 L166.55,504.03 L166.8,504.22 L167.05,504.4 L167.3,504.57" fill="none" stroke="#4fc4cd" stroke-width="1.1"/>
<path d="M156.55,496.9 L156.8,497.2 L157.05,497.42 L157.3,497.55 L157.55,497.54 L157.8,497.38 L158.05,497.04 L158.3,496.47 L158.55,495.65 L158.8,494.55 L159.05,493.16 L159.3,491.47 L159.55,489.5 L159.8,487.31 L160.05,484.96 L160.3,482.53 L160.55,480.13 L160.8,477.9 L161.05,475.97 L161.3,474.45 L161.55,473.45 L161.8,473.04 L162.05,473.27 L162.3,474.13 L162.55,475.57 L162.8,477.52 L163.05,479.86 L163.3,482.48 L163.55,485.23 L163.8,488.01 L164.05,490.7 L164.3,493.2 L164.55,495.47 L164.8,497.46 L165.05,499.16 L165.3,500.57 L165.55,501.72 L165.8,502.63 L166.05,503.34 L166.3,503.89 L166.55,504.31 L166.8,504.62 L167.05,504.86 L167.3,505.05 L167.3,505.25 L167.05,505.17 L166.8,505.09 L166.55,505.02 L166.3,504.94 L166.05,504.87 L165.8,504.79 L165.55,504.71 L165.3,504.63 L165.05,504.55 L164.8,504.46 L164.55,504.37 L164.3,504.28 L164.05,504.18 L163.8,504.07 L163.55,503.96 L163.3,503.85 L163.05,503.73 L162.8,503.6 L162.55,503.46 L162.3,503.31 L162.05,503.16 L161.8,502.99 L161.55,502.82 L161.3,502.64 L161.05,502.44 L160.8,502.24 L160.55,502.02 L160.3,501.79 L160.05,501.55 L159.8,501.3 L159.55,501.04 L159.3,500.78 L159.05,500.52 L158.8,500.24 L158.55,499.95 L158.3,499.66 L158.05,499.35 L157.8,499.02 L157.55,498.68 L157.3,498.32 L157.05,497.94 L156.8,497.54 L156.55,497.11Z" fill="#8ad6dc" fill-opacity="0.7" stroke="none"/>
<path d="M156.55,496.9 L156.8,497.2 L157.05,497.42 L157.3,497.55 L157.55,497.54 L157.8,497.38 L158.05,497.04 L158.3,496.47 L158.55,495.65 L158.8,494.55 L159.05,493.16 L159.3,491.47 L159.55,489.5 L159.8,487.31 L160.05,484.96 L160.3,482.53 L160.55,480.13 L160.8,477.9 L161.05,475.97 L161.3,474.45 L161.55,473.45 L161.8,473.04 L162.05,473.27 L162.3,474.13 L162.55,475.57 L162.8,477.52 L163.05,479.86 L163.3,482.48 L163.55,485.23 L163.8,488.01 L164.05,490.7 L164.3,493.2 L164.55,495.47 L164.8,497.46 L165.05,499.16 L165.3,500.57 L165.55,501.72 L165.8,502.63 L166.05,503.34 L166.3,503.89 L166.55,504.31 L166.8,504.62 L167.05,504.86 L167.3,505.05" fill="none" stroke="#4fc4cd" stroke-width="1.1"/>
<path d="M98.8,452.08 L99.05,452.08 L99.3,452.07 L99.55,452.06 L99.8,452.05 L100.05,452.04 L100.3,452.02 L100.55,451.99 L100.8,451.97 L101.05,451.94 L101.3,451.9 L101.55,451.86 L101.8,451.82 L102.05,451.77 L102.3,451.72 L102.55,451.66 L102.8,451.59 L103.05,451.52 L103.3,451.45 L103.55,451.36 L103.8,451.28 L104.05,451.18 L104.3,451.08 L104.55,450.97 L104.8,450.86 L105.05,450.74 L105.3,450.61 L105.55,450.47 L105.8,450.33 L106.05,450.17 L106.3,450.01 L106.55,449.84 L106.8,449.66 L107.05,449.47 L107.3,449.27 L107.55,449.06 L107.8,448.84 L108.05,448.61 L108.3,448.37 L108.55,448.12 L108.8,447.86 L109.05,447.59 L109.3,447.31 L109.55,447.02 L109.8,446.71 L110.05,446.4 L110.3,446.07 L110.55,445.73 L110.8,445.38 L111.05,445.02 L111.3,444.65 L111.55,444.26 L111.8,443.86 L112.05,443.45 L112.3,443.03 L112.55,442.6 L112.8,442.15 L113.05,441.7 L113.3,441.23 L113.55,440.75 L113.8,440.26 L114.05,439.76 L114.3,439.25 L114.55,438.73 L114.8,438.2 L115.05,437.66 L115.3,437.11 L115.55,436.55 L115.8,435.99 L116.05,435.42 L116.3,434.84 L116.55,434.26 L116.8,433.67 L117.05,433.08 L117.3,432.48 L117.55,431.88 L117.8,431.28 L118.05,430.68 L118.3,430.08 L118.55,429.49 L118.8,428.89 L119.05,428.3 L119.3,427.71 L119.55,427.12 L119.8,426.55 L120.05,425.97 L120.3,425.41 L120.55,424.86 L120.8,424.32 L121.05,423.79 L121.3,423.27 L121.55,422.77 L121.8,422.28 L122.05,421.8 L122.3,421.35 L122.55,420.91 L122.8,420.49 L123.05,420.09 L123.3,419.71 L123.55,419.36 L123.8,419.02 L124.05,418.71 L124.3,418.42 L124.55,418.16 L124.8,417.93 L125.05,417.72 L125.3,417.54 L125.55,417.38 L125.8,417.26 L126.05,417.16 L126.3,417.09 L126.55,417.05 L126.8,417.04 L127.05,417.06 L127.3,417.11 L127.55,417.19 L127.8,417.3 L128.05,417.45 L128.3,417.64 L128.55,417.87 L128.8,418.13 L129.05,418.44 L129.3,418.78 L129.55,419.15 L129.8,419.57 L130.05,420.02 L130.3,420.5 L130.55,421.02 L130.8,421.57 L131.05,422.16 L131.3,422.78 L131.55,423.43 L131.8,424.1 L132.05,424.81 L132.3,425.54 L132.55,426.3 L132.8,427.08 L133.05,427.89 L133.3,428.71 L133.55,429.56 L133.8,430.43 L134.05,431.31 L134.3,432.2 L134.55,433.11 L134.8,434.03 L135.05,434.97 L135.3,435.91 L135.55,436.85 L135.8,437.81 L136.05,438.76 L136.3,439.72 L136.55,440.68 L136.8,441.64 L137.05,442.6 L137.3,443.55 L137.55,444.51 L137.8,445.45 L138.05,446.39 L138.3,447.32 L138.55,448.24 L138.8,449.16 L139.05,450.06 L139.3,450.96 L139.55,451.84 L139.8,452.71 L140.05,453.58 L140.3,454.43 L140.55,455.28 L140.8,456.11 L141.05,456.94 L141.3,457.75 L141.55,458.56 L141.8,459.36 L142.05,460.15 L142.3,460.93 L142.55,461.71 L142.8,462.48 L143.05,463.24 L143.3,464 L143.55,464.74 L143.8,465.48 L144.05,466.22 L144.3,466.94 L144.55,467.67 L144.8,468.38 L145.05,469.1 L145.3,469.81 L145.55,470.52 L145.8,471.22 L146.05,471.93 L146.3,472.63 L146.55,473.33 L146.8,474.03 L147.05,474.72 L147.3,475.41 L147.55,476.09 L147.8,476.77 L148.05,477.44 L148.3,478.1 L148.55,478.77 L148.8,479.42 L149.05,480.07 L149.3,480.71 L149.55,481.35 L149.8,481.98 L150.05,482.6 L150.3,483.21 L150.55,483.82 L150.8,484.42 L151.05,485.01 L151.3,485.59 L151.55,486.16 L151.8,486.74 L152.05,487.31 L152.3,487.89 L152.55,488.47 L152.8,489.05 L153.05,489.62 L153.3,490.19 L153.55,490.76 L153.8,491.33 L154.05,491.88 L154.3,492.44 L154.55,492.98 L154.8,493.52 L154.8,493.79 L154.55,493.28 L154.3,492.76 L154.05,492.24 L153.8,491.71 L153.55,491.18 L153.3,490.65 L153.05,490.12 L152.8,489.59 L152.55,489.07 L152.3,488.54 L152.05,488.02 L151.8,487.51 L151.55,487 L151.3,486.5 L151.05,486 L150.8,485.49 L150.55,484.98 L150.3,484.47 L150.05,483.96 L149.8,483.44 L149.55,482.93 L149.3,482.42 L149.05,481.9 L148.8,481.4 L148.55,480.89 L148.3,480.39 L148.05,479.89 L147.8,479.39 L147.55,478.9 L147.3,478.42 L147.05,477.94 L146.8,477.47 L146.55,477.01 L146.3,476.56 L146.05,476.11 L145.8,475.68 L145.55,475.26 L145.3,474.85 L145.05,474.45 L144.8,474.07 L144.55,473.69 L144.3,473.33 L144.05,472.98 L143.8,472.63 L143.55,472.3 L143.3,471.98 L143.05,471.66 L142.8,471.36 L142.55,471.06 L142.3,470.77 L142.05,470.49 L141.8,470.22 L141.55,469.96 L141.3,469.71 L141.05,469.46 L140.8,469.22 L140.55,468.99 L140.3,468.76 L140.05,468.54 L139.8,468.32 L139.55,468.11 L139.3,467.9 L139.05,467.69 L138.8,467.49 L138.55,467.28 L138.3,467.08 L138.05,466.88 L137.8,466.68 L137.55,466.48 L137.3,466.28 L137.05,466.08 L136.8,465.88 L136.55,465.69 L136.3,465.49 L136.05,465.3 L135.8,465.11 L135.55,464.92 L135.3,464.74 L135.05,464.55 L134.8,464.37 L134.55,464.19 L134.3,464.01 L134.05,463.84 L133.8,463.66 L133.55,463.49 L133.3,463.33 L133.05,463.16 L132.8,463 L132.55,462.84 L132.3,462.68 L132.05,462.53 L131.8,462.38 L131.55,462.23 L131.3,462.09 L131.05,461.95 L130.8,461.81 L130.55,461.67 L130.3,461.54 L130.05,461.4 L129.8,461.27 L129.55,461.15 L129.3,461.02 L129.05,460.9 L128.8,460.77 L128.55,460.65 L128.3,460.53 L128.05,460.42 L127.8,460.3 L127.55,460.18 L127.3,460.07 L127.05,459.96 L126.8,459.85 L126.55,459.73 L126.3,459.62 L126.05,459.51 L125.8,459.4 L125.55,459.3 L125.3,459.19 L125.05,459.08 L124.8,458.97 L124.55,458.86 L124.3,458.76 L124.05,458.65 L123.8,458.55 L123.55,458.44 L123.3,458.34 L123.05,458.24 L122.8,458.13 L122.55,458.03 L122.3,457.93 L122.05,457.83 L121.8,457.74 L121.55,457.64 L121.3,457.54 L121.05,457.44 L120.8,457.35 L120.55,457.25 L120.3,457.16 L120.05,457.07 L119.8,456.98 L119.55,456.88 L119.3,456.79 L119.05,456.7 L118.8,456.61 L118.55,456.53 L118.3,456.44 L118.05,456.35 L117.8,456.27 L117.55,456.18 L117.3,456.1 L117.05,456.02 L116.8,455.93 L116.55,455.85 L116.3,455.77 L116.05,455.69 L115.8,455.61 L115.55,455.53 L115.3,455.45 L115.05,455.38 L114.8,455.3 L114.55,455.22 L114.3,455.15 L114.05,455.08 L113.8,455 L113.55,454.93 L113.3,454.86 L113.05,454.79 L112.8,454.72 L112.55,454.65 L112.3,454.59 L112.05,454.52 L111.8,454.46 L111.55,454.4 L111.3,454.34 L111.05,454.28 L110.8,454.22 L110.55,454.16 L110.3,454.11 L110.05,454.05 L109.8,454 L109.55,453.95 L109.3,453.9 L109.05,453.85 L108.8,453.81 L108.55,453.76 L108.3,453.72 L108.05,453.68 L107.8,453.64 L107.55,453.59 L107.3,453.56 L107.05,453.52 L106.8,453.48 L106.55,453.44 L106.3,453.41 L106.05,453.38 L105.8,453.34 L105.55,453.31 L105.3,453.28 L105.05,453.24 L104.8,453.21 L104.55,453.18 L104.3,453.15 L104.05,453.12 L103.8,453.09 L103.55,453.06 L103.3,453.04 L103.05,453.01 L102.8,452.98 L102.55,452.95 L102.3,452.92 L102.05,452.89 L101.8,452.86 L101.55,452.84 L101.3,452.81 L101.05,452.78 L100.8,452.75 L100.55,452.72 L100.3,452.69 L100.05,452.66 L99.8,452.63 L99.55,452.6 L99.3,452.57 L99.05,452.53 L98.8,452.5Z" fill="#f7b98a" fill-opacity="0.75" stroke="none"/>
<path d="M98.8,452.08 L99.05,452.08 L99.3,452.07 L99.55,452.06 L99.8,452.05 L100.05,452.04 L100.3,452.02 L100.55,451.99 L100.8,451.97 L101.05,451.94 L101.3,451.9 L101.55,451.86 L101.8,451.82 L102.05,451.77 L102.3,451.72 L102.55,451.66 L102.8,451.59 L103.05,451.52 L103.3,451.45 L103.55,451.36 L103.8,451.28 L104.05,451.18 L104.3,451.08 L104.55,450.97 L104.8,450.86 L105.05,450.74 L105.3,450.61 L105.55,450.47 L105.8,450.33 L106.05,450.17 L106.3,450.01 L106.55,449.84 L106.8,449.66 L107.05,449.47 L107.3,449.27 L107.55,449.06 L107.8,448.84 L108.05,448.61 L108.3,448.37 L108.55,448.12 L108.8,447.86 L109.05,447.59 L109.3,447.31 L109.55,447.02 L109.8,446.71 L110.05,446.4 L110.3,446.07 L110.55,445.73 L110.8,445.38 L111.05,445.02 L111.3,444.65 L111.55,444.26 L111.8,443.86 L112.05,443.45 L112.3,443.03 L112.55,442.6 L112.8,442.15 L113.05,441.7 L113.3,441.23 L113.55,440.75 L113.8,440.26 L114.05,439.76 L114.3,439.25 L114.55,438.73 L114.8,438.2 L115.05,437.66 L115.3,437.11 L115.55,436.55 L115.8,435.99 L116.05,435.42 L116.3,434.84 L116.55,434.26 L116.8,433.67 L117.05,433.08 L117.3,432.48 L117.55,431.88 L117.8,431.28 L118.05,430.68 L118.3,430.08 L118.55,429.49 L118.8,428.89 L119.05,428.3 L119.3,427.71 L119.55,427.12 L119.8,426.55 L120.05,425.97 L120.3,425.41 L120.55,424.86 L120.8,424.32 L121.05,423.79 L121.3,423.27 L121.55,422.77 L121.8,422.28 L122.05,421.8 L122.3,421.35 L122.55,420.91 L122.8,420.49 L123.05,420.09 L123.3,419.71 L123.55,419.36 L123.8,419.02 L124.05,418.71 L124.3,418.42 L124.55,418.16 L124.8,417.93 L125.05,417.72 L125.3,417.54 L125.55,417.38 L125.8,417.26 L126.05,417.16 L126.3,417.09 L126.55,417.05 L126.8,417.04 L127.05,417.06 L127.3,417.11 L127.55,417.19 L127.8,417.3 L128.05,417.45 L128.3,417.64 L128.55,417.87 L128.8,418.13 L129.05,418.44 L129.3,418.78 L129.55,419.15 L129.8,419.57 L130.05,420.02 L130.3,420.5 L130.55,421.02 L130.8,421.57 L131.05,422.16 L131.3,422.78 L131.55,423.43 L131.8,424.1 L132.05,424.81 L132.3,425.54 L132.55,426.3 L132.8,427.08 L133.05,427.89 L133.3,428.71 L133.55,429.56 L133.8,430.43 L134.05,431.31 L134.3,432.2 L134.55,433.11 L134.8,434.03 L135.05,434.97 L135.3,435.91 L135.55,436.85 L135.8,437.81 L136.05,438.76 L136.3,439.72 L136.55,440.68 L136.8,441.64 L137.05,442.6 L137.3,443.55 L137.55,444.51 L137.8,445.45 L138.05,446.39 L138.3,447.32 L138.55,448.24 L138.8,449.16 L139.05,450.06 L139.3,450.96 L139.55,451.84 L139.8,452.71 L140.05,453.58 L140.3,454.43 L140.55,455.28 L140.8,456.11 L141.05,456.94 L141.3,457.75 L141.55,458.56 L141.8,459.36 L142.05,460.15 L142.3,460.93 L142.55,461.71 L142.8,462.48 L143.05,463.24 L143.3,464 L143.55,464.74 L143.8,465.48 L144.05,466.22 L144.3,466.94 L144.55,467.67 L144.8,468.38 L145.05,469.1 L145.3,469.81 L145.55,470.52 L145.8,471.22 L146.05,471.93 L146.3,472.63 L146.55,473.33 L146.8,474.03 L147.05,474.72 L147.3,475.41 L147.55,476.09 L147.8,476.77 L148.05,477.44 L148.3,478.1 L148.55,478.77 L148.8,479.42 L149.05,480.07 L149.3,480.71 L149.55,481.35 L149.8,481.98 L150.05,482.6 L150.3,483.21 L150.55,483.82 L150.8,484.42 L151.05,485.01 L151.3,485.59 L151.55,486.16 L151.8,486.74 L152.05,487.31 L152.3,487.89 L152.55,488.47 L152.8,489.05 L153.05,489.62 L153.3,490.19 L153.55,490.76 L153.8,491.33 L154.05,491.88 L154.3,492.44 L154.55,492.98 L154.8,493.52" fill="none" stroke="#f29a4e" stroke-width="1.1"/>
<path d="M144.05,472.81 L144.3,473.1 L144.55,473.37 L144.8,473.64 L145.05,473.88 L145.3,474.09 L145.55,474.26 L145.8,474.39 L146.05,474.46 L146.3,474.46 L146.55,474.39 L146.8,474.22 L147.05,473.96 L147.3,473.6 L147.55,473.12 L147.8,472.54 L148.05,471.85 L148.3,471.06 L148.55,470.19 L148.8,469.24 L149.05,468.26 L149.3,467.25 L149.55,466.26 L149.8,465.33 L150.05,464.47 L150.3,463.74 L150.55,463.17 L150.8,462.79 L151.05,462.62 L151.3,462.69 L151.55,463.01 L151.8,463.59 L152.05,464.44 L152.3,465.54 L152.55,466.88 L152.8,468.41 L153.05,470.13 L153.3,471.98 L153.55,473.93 L153.8,475.94 L154.05,477.98 L154.3,480.01 L154.55,482 L154.8,483.92 L155.05,485.75 L155.3,487.48 L155.55,489.08 L155.8,490.56 L156.05,491.92 L156.3,493.15 L156.55,494.25 L156.8,495.24 L157.05,496.12 L157.3,496.89 L157.55,497.57 L157.8,498.17 L158.05,498.7 L158.3,499.17 L158.55,499.59 L158.8,499.97 L159.05,500.32 L159.05,500.52 L158.8,500.24 L158.55,499.95 L158.3,499.66 L158.05,499.35 L157.8,499.02 L157.55,498.68 L157.3,498.32 L157.05,497.94 L156.8,497.54 L156.55,497.11 L156.3,496.67 L156.05,496.22 L155.8,495.75 L155.55,495.28 L155.3,494.79 L155.05,494.29 L154.8,493.79 L154.55,493.28 L154.3,492.76 L154.05,492.24 L153.8,491.71 L153.55,491.18 L153.3,490.65 L153.05,490.12 L152.8,489.59 L152.55,489.07 L152.3,488.54 L152.05,488.02 L151.8,487.51 L151.55,487 L151.3,486.5 L151.05,486 L150.8,485.49 L150.55,484.98 L150.3,484.47 L150.05,483.96 L149.8,483.44 L149.55,482.93 L149.3,482.42 L149.05,481.9 L148.8,481.4 L148.55,480.89 L148.3,480.39 L148.05,479.89 L147.8,479.39 L147.55,478.9 L147.3,478.42 L147.05,477.94 L146.8,477.47 L146.55,477.01 L146.3,476.56 L146.05,476.11 L145.8,475.68 L145.55,475.26 L145.3,474.85 L145.05,474.45 L144.8,474.07 L144.55,473.69 L144.3,473.33 L144.05,472.98Z" fill="#f7b98a" fill-opacity="0.55" stroke="none"/>
<path d="M144.05,472.81 L144.3,473.1 L144.55,473.37 L144.8,473.64 L145.05,473.88 L145.3,474.09 L145.55,474.26 L145.8,474.39 L146.05,474.46 L146.3,474.46 L146.55,474.39 L146.8,474.22 L147.05,473.96 L147.3,473.6 L147.55,473.12 L147.8,472.54 L148.05,471.85 L148.3,471.06 L148.55,470.19 L148.8,469.24 L149.05,468.26 L149.3,467.25 L149.55,466.26 L149.8,465.33 L150.05,464.47 L150.3,463.74 L150.55,463.17 L150.8,462.79 L151.05,462.62 L151.3,462.69 L151.55,463.01 L151.8,463.59 L152.05,464.44 L152.3,465.54 L152.55,466.88 L152.8,468.41 L153.05,470.13 L153.3,471.98 L153.55,473.93 L153.8,475.94 L154.05,477.98 L154.3,480.01 L154.55,482 L154.8,483.92 L155.05,485.75 L155.3,487.48 L155.55,489.08 L155.8,490.56 L156.05,491.92 L156.3,493.15 L156.55,494.25 L156.8,495.24 L157.05,496.12 L157.3,496.89 L157.55,497.57 L157.8,498.17 L158.05,498.7 L158.3,499.17 L158.55,499.59 L158.8,499.97 L159.05,500.32" fill="none" stroke="#f29a4e" stroke-width="1.1"/>
<path d="M98.8,452.5C100.55,452.73 106.27,453.32 109.3,453.9C112.33,454.48 114.37,455.13 117,456C119.63,456.87 122.6,458.02 125.1,459.1C127.6,460.18 129.82,461.18 132,462.5C134.18,463.82 136.45,465.58 138.2,467C139.95,468.42 141.18,469.47 142.5,471C143.82,472.53 144.62,473.58 146.1,476.2C147.58,478.82 149.65,483.2 151.4,486.7C153.15,490.2 155.17,494.73 156.6,497.2C158.03,499.67 158.9,500.4 160,501.5C161.1,502.6 161.8,503.12 163.2,503.8C164.6,504.48 167.53,505.3 168.4,505.6" fill="none" stroke="#111" stroke-width="2.0" stroke-dasharray="3 1.6"/>
<path d="M20.9,420.97a1.45,2.3 0 1,0 2.9,0a1.45,2.3 0 1,0 -2.9,0M21.1,412.36a1.45,2.3 0 1,0 2.9,0a1.45,2.3 0 1,0 -2.9,0M22.11,410.73a1.45,2.3 0 1,0 2.9,0a1.45,2.3 0 1,0 -2.9,0M22.53,415.54a1.45,2.3 0 1,0 2.9,0a1.45,2.3 0 1,0 -2.9,0M23.27,411.39a1.45,2.3 0 1,0 2.9,0a1.45,2.3 0 1,0 -2.9,0M24.12,413.87a1.45,2.3 0 1,0 2.9,0a1.45,2.3 0 1,0 -2.9,0M24.56,416.98a1.45,2.3 0 1,0 2.9,0a1.45,2.3 0 1,0 -2.9,0M25.5,414.96a1.45,2.3 0 1,0 2.9,0a1.45,2.3 0 1,0 -2.9,0M26.26,411.83a1.45,2.3 0 1,0 2.9,0a1.45,2.3 0 1,0 -2.9,0M26.68,408.87a1.45,2.3 0 1,0 2.9,0a1.45,2.3 0 1,0 -2.9,0M27.82,407.58a1.45,2.3 0 1,0 2.9,0a1.45,2.3 0 1,0 -2.9,0M28.42,408.68a1.45,2.3 0 1,0 2.9,0a1.45,2.3 0 1,0 -2.9,0M29.33,407.33a1.45,2.3 0 1,0 2.9,0a1.45,2.3 0 1,0 -2.9,0M29.67,414.37a1.45,2.3 0 1,0 2.9,0a1.45,2.3 0 1,0 -2.9,0M30.49,408.61a1.45,2.3 0 1,0 2.9,0a1.45,2.3 0 1,0 -2.9,0M30.9,407.42a1.45,2.3 0 1,0 2.9,0a1.45,2.3 0 1,0 -2.9,0M31.83,408.52a1.45,2.3 0 1,0 2.9,0a1.45,2.3 0 1,0 -2.9,0M32.52,404.96a1.45,2.3 0 1,0 2.9,0a1.45,2.3 0 1,0 -2.9,0M33.34,409.53a1.45,2.3 0 1,0 2.9,0a1.45,2.3 0 1,0 -2.9,0M33.84,410.23a1.45,2.3 0 1,0 2.9,0a1.45,2.3 0 1,0 -2.9,0M34.84,408.71a1.45,2.3 0 1,0 2.9,0a1.45,2.3 0 1,0 -2.9,0M35.11,409.35a1.45,2.3 0 1,0 2.9,0a1.45,2.3 0 1,0 -2.9,0M35.77,406.96a1.45,2.3 0 1,0 2.9,0a1.45,2.3 0 1,0 -2.9,0M36.94,411.24a1.45,2.3 0 1,0 2.9,0a1.45,2.3 0 1,0 -2.9,0M37.35,405.08a1.45,2.3 0 1,0 2.9,0a1.45,2.3 0 1,0 -2.9,0M38.03,408.19a1.45,2.3 0 1,0 2.9,0a1.45,2.3 0 1,0 -2.9,0M39.02,403.42a1.45,2.3 0 1,0 2.9,0a1.45,2.3 0 1,0 -2.9,0M39.31,404.12a1.45,2.3 0 1,0 2.9,0a1.45,2.3 0 1,0 -2.9,0M40.42,402.22a1.45,2.3 0 1,0 2.9,0a1.45,2.3 0 1,0 -2.9,0M40.79,396.97a1.45,2.3 0 1,0 2.9,0a1.45,2.3 0 1,0 -2.9,0M41.68,405a1.45,2.3 0 1,0 2.9,0a1.45,2.3 0 1,0 -2.9,0M42.62,398.23a1.45,2.3 0 1,0 2.9,0a1.45,2.3 0 1,0 -2.9,0M42.85,400.35a1.45,2.3 0 1,0 2.9,0a1.45,2.3 0 1,0 -2.9,0M43.7,398.45a1.45,2.3 0 1,0 2.9,0a1.45,2.3 0 1,0 -2.9,0M44.16,399.82a1.45,2.3 0 1,0 2.9,0a1.45,2.3 0 1,0 -2.9,0M45.43,393.28a1.45,2.3 0 1,0 2.9,0a1.45,2.3 0 1,0 -2.9,0M46.03,400.95a1.45,2.3 0 1,0 2.9,0a1.45,2.3 0 1,0 -2.9,0M46.84,395.63a1.45,2.3 0 1,0 2.9,0a1.45,2.3 0 1,0 -2.9,0M47.4,391.53a1.45,2.3 0 1,0 2.9,0a1.45,2.3 0 1,0 -2.9,0M47.88,402.45a1.45,2.3 0 1,0 2.9,0a1.45,2.3 0 1,0 -2.9,0M48.47,397.68a1.45,2.3 0 1,0 2.9,0a1.45,2.3 0 1,0 -2.9,0M49.17,395.11a1.45,2.3 0 1,0 2.9,0a1.45,2.3 0 1,0 -2.9,0M50.31,394.43a1.45,2.3 0 1,0 2.9,0a1.45,2.3 0 1,0 -2.9,0M50.51,390.6a1.45,2.3 0 1,0 2.9,0a1.45,2.3 0 1,0 -2.9,0M51.47,392.11a1.45,2.3 0 1,0 2.9,0a1.45,2.3 0 1,0 -2.9,0M52.34,392.77a1.45,2.3 0 1,0 2.9,0a1.45,2.3 0 1,0 -2.9,0M52.7,382.88a1.45,2.3 0 1,0 2.9,0a1.45,2.3 0 1,0 -2.9,0M53.52,391.61a1.45,2.3 0 1,0 2.9,0a1.45,2.3 0 1,0 -2.9,0M54.16,393.28a1.45,2.3 0 1,0 2.9,0a1.45,2.3 0 1,0 -2.9,0M55.19,386.26a1.45,2.3 0 1,0 2.9,0a1.45,2.3 0 1,0 -2.9,0M55.76,387.08a1.45,2.3 0 1,0 2.9,0a1.45,2.3 0 1,0 -2.9,0M56.55,395.08a1.45,2.3 0 1,0 2.9,0a1.45,2.3 0 1,0 -2.9,0M57.13,394.29a1.45,2.3 0 1,0 2.9,0a1.45,2.3 0 1,0 -2.9,0M57.7,398.48a1.45,2.3 0 1,0 2.9,0a1.45,2.3 0 1,0 -2.9,0M58.61,394.17a1.45,2.3 0 1,0 2.9,0a1.45,2.3 0 1,0 -2.9,0M59.35,398.39a1.45,2.3 0 1,0 2.9,0a1.45,2.3 0 1,0 -2.9,0M59.62,399.61a1.45,2.3 0 1,0 2.9,0a1.45,2.3 0 1,0 -2.9,0M60.59,401.15a1.45,2.3 0 1,0 2.9,0a1.45,2.3 0 1,0 -2.9,0M61.45,405.04a1.45,2.3 0 1,0 2.9,0a1.45,2.3 0 1,0 -2.9,0M61.7,414.17a1.45,2.3 0 1,0 2.9,0a1.45,2.3 0 1,0 -2.9,0M62.69,405.52a1.45,2.3 0 1,0 2.9,0a1.45,2.3 0 1,0 -2.9,0M63.39,407.64a1.45,2.3 0 1,0 2.9,0a1.45,2.3 0 1,0 -2.9,0M64.03,403.29a1.45,2.3 0 1,0 2.9,0a1.45,2.3 0 1,0 -2.9,0M64.45,408.69a1.45,2.3 0 1,0 2.9,0a1.45,2.3 0 1,0 -2.9,0M65.38,406.31a1.45,2.3 0 1,0 2.9,0a1.45,2.3 0 1,0 -2.9,0M66.37,402.85a1.45,2.3 0 1,0 2.9,0a1.45,2.3 0 1,0 -2.9,0M66.67,402.28a1.45,2.3 0 1,0 2.9,0a1.45,2.3 0 1,0 -2.9,0M67.52,399.78a1.45,2.3 0 1,0 2.9,0a1.45,2.3 0 1,0 -2.9,0M68.2,404a1.45,2.3 0 1,0 2.9,0a1.45,2.3 0 1,0 -2.9,0M68.94,400.39a1.45,2.3 0 1,0 2.9,0a1.45,2.3 0 1,0 -2.9,0M69.76,392.35a1.45,2.3 0 1,0 2.9,0a1.45,2.3 0 1,0 -2.9,0M70.37,393.37a1.45,2.3 0 1,0 2.9,0a1.45,2.3 0 1,0 -2.9,0M70.93,393.56a1.45,2.3 0 1,0 2.9,0a1.45,2.3 0 1,0 -2.9,0M71.98,389.99a1.45,2.3 0 1,0 2.9,0a1.45,2.3 0 1,0 -2.9,0M72.67,383.72a1.45,2.3 0 1,0 2.9,0a1.45,2.3 0 1,0 -2.9,0M73.25,387.38a1.45,2.3 0 1,0 2.9,0a1.45,2.3 0 1,0 -2.9,0M73.91,384.57a1.45,2.3 0 1,0 2.9,0a1.45,2.3 0 1,0 -2.9,0M74.46,385.4a1.45,2.3 0 1,0 2.9,0a1.45,2.3 0 1,0 -2.9,0M75.13,381.45a1.45,2.3 0 1,0 2.9,0a1.45,2.3 0 1,0 -2.9,0M75.88,373.8a1.45,2.3 0 1,0 2.9,0a1.45,2.3 0 1,0 -2.9,0M76.6,373.83a1.45,2.3 0 1,0 2.9,0a1.45,2.3 0 1,0 -2.9,0M77.38,370.62a1.45,2.3 0 1,0 2.9,0a1.45,2.3 0 1,0 -2.9,0M77.9,377.21a1.45,2.3 0 1,0 2.9,0a1.45,2.3 0 1,0 -2.9,0M78.58,382.34a1.45,2.3 0 1,0 2.9,0a1.45,2.3 0 1,0 -2.9,0M79.31,385.55a1.45,2.3 0 1,0 2.9,0a1.45,2.3 0 1,0 -2.9,0M79.92,382.41a1.45,2.3 0 1,0 2.9,0a1.45,2.3 0 1,0 -2.9,0M80.83,390.21a1.45,2.3 0 1,0 2.9,0a1.45,2.3 0 1,0 -2.9,0M81.52,392.34a1.45,2.3 0 1,0 2.9,0a1.45,2.3 0 1,0 -2.9,0M82.46,392.15a1.45,2.3 0 1,0 2.9,0a1.45,2.3 0 1,0 -2.9,0M82.8,402.77a1.45,2.3 0 1,0 2.9,0a1.45,2.3 0 1,0 -2.9,0M83.94,401.45a1.45,2.3 0 1,0 2.9,0a1.45,2.3 0 1,0 -2.9,0M84.53,406.79a1.45,2.3 0 1,0 2.9,0a1.45,2.3 0 1,0 -2.9,0M84.92,411.56a1.45,2.3 0 1,0 2.9,0a1.45,2.3 0 1,0 -2.9,0M85.95,419.35a1.45,2.3 0 1,0 2.9,0a1.45,2.3 0 1,0 -2.9,0M86.2,422.47a1.45,2.3 0 1,0 2.9,0a1.45,2.3 0 1,0 -2.9,0M87.26,423.16a1.45,2.3 0 1,0 2.9,0a1.45,2.3 0 1,0 -2.9,0M87.73,435.38a1.45,2.3 0 1,0 2.9,0a1.45,2.3 0 1,0 -2.9,0M88.64,435.28a1.45,2.3 0 1,0 2.9,0a1.45,2.3 0 1,0 -2.9,0M89.05,441.26a1.45,2.3 0 1,0 2.9,0a1.45,2.3 0 1,0 -2.9,0M89.76,435.85a1.45,2.3 0 1,0 2.9,0a1.45,2.3 0 1,0 -2.9,0M90.36,437.84a1.45,2.3 0 1,0 2.9,0a1.45,2.3 0 1,0 -2.9,0M91.49,440.16a1.45,2.3 0 1,0 2.9,0a1.45,2.3 0 1,0 -2.9,0M92.03,442.15a1.45,2.3 0 1,0 2.9,0a1.45,2.3 0 1,0 -2.9,0M92.91,441a1.45,2.3 0 1,0 2.9,0a1.45,2.3 0 1,0 -2.9,0M93.64,443.09a1.45,2.3 0 1,0 2.9,0a1.45,2.3 0 1,0 -2.9,0M94.05,445.14a1.45,2.3 0 1,0 2.9,0a1.45,2.3 0 1,0 -2.9,0M94.63,453.74a1.45,2.3 0 1,0 2.9,0a1.45,2.3 0 1,0 -2.9,0M95.37,452.81a1.45,2.3 0 1,0 2.9,0a1.45,2.3 0 1,0 -2.9,0M96.21,448.44a1.45,2.3 0 1,0 2.9,0a1.45,2.3 0 1,0 -2.9,0M96.97,454.84a1.45,2.3 0 1,0 2.9,0a1.45,2.3 0 1,0 -2.9,0M97.87,448.81a1.45,2.3 0 1,0 2.9,0a1.45,2.3 0 1,0 -2.9,0M98.44,453.06a1.45,2.3 0 1,0 2.9,0a1.45,2.3 0 1,0 -2.9,0M99.2,454.38a1.45,2.3 0 1,0 2.9,0a1.45,2.3 0 1,0 -2.9,0M99.98,450.61a1.45,2.3 0 1,0 2.9,0a1.45,2.3 0 1,0 -2.9,0M100.74,453.12a1.45,2.3 0 1,0 2.9,0a1.45,2.3 0 1,0 -2.9,0M101.08,450.89a1.45,2.3 0 1,0 2.9,0a1.45,2.3 0 1,0 -2.9,0M102.01,450.99a1.45,2.3 0 1,0 2.9,0a1.45,2.3 0 1,0 -2.9,0M102.49,449.23a1.45,2.3 0 1,0 2.9,0a1.45,2.3 0 1,0 -2.9,0M103.38,449.63a1.45,2.3 0 1,0 2.9,0a1.45,2.3 0 1,0 -2.9,0M103.78,445.03a1.45,2.3 0 1,0 2.9,0a1.45,2.3 0 1,0 -2.9,0M104.59,450.78a1.45,2.3 0 1,0 2.9,0a1.45,2.3 0 1,0 -2.9,0M105.31,448.59a1.45,2.3 0 1,0 2.9,0a1.45,2.3 0 1,0 -2.9,0M106.24,444.21a1.45,2.3 0 1,0 2.9,0a1.45,2.3 0 1,0 -2.9,0M106.6,444.43a1.45,2.3 0 1,0 2.9,0a1.45,2.3 0 1,0 -2.9,0M107.34,443.65a1.45,2.3 0 1,0 2.9,0a1.45,2.3 0 1,0 -2.9,0M107.95,441.28a1.45,2.3 0 1,0 2.9,0a1.45,2.3 0 1,0 -2.9,0M109.04,435.72a1.45,2.3 0 1,0 2.9,0a1.45,2.3 0 1,0 -2.9,0M109.57,437.73a1.45,2.3 0 1,0 2.9,0a1.45,2.3 0 1,0 -2.9,0M110.32,436.04a1.45,2.3 0 1,0 2.9,0a1.45,2.3 0 1,0 -2.9,0M111.2,440.13a1.45,2.3 0 1,0 2.9,0a1.45,2.3 0 1,0 -2.9,0M111.94,435.05a1.45,2.3 0 1,0 2.9,0a1.45,2.3 0 1,0 -2.9,0M112.09,432.61a1.45,2.3 0 1,0 2.9,0a1.45,2.3 0 1,0 -2.9,0M113.25,431.64a1.45,2.3 0 1,0 2.9,0a1.45,2.3 0 1,0 -2.9,0M113.48,434.54a1.45,2.3 0 1,0 2.9,0a1.45,2.3 0 1,0 -2.9,0M114.17,424.78a1.45,2.3 0 1,0 2.9,0a1.45,2.3 0 1,0 -2.9,0M115.29,435.31a1.45,2.3 0 1,0 2.9,0a1.45,2.3 0 1,0 -2.9,0M115.98,427.51a1.45,2.3 0 1,0 2.9,0a1.45,2.3 0 1,0 -2.9,0M116.35,425.37a1.45,2.3 0 1,0 2.9,0a1.45,2.3 0 1,0 -2.9,0M117.31,430.19a1.45,2.3 0 1,0 2.9,0a1.45,2.3 0 1,0 -2.9,0M117.96,426.89a1.45,2.3 0 1,0 2.9,0a1.45,2.3 0 1,0 -2.9,0M118.68,425.09a1.45,2.3 0 1,0 2.9,0a1.45,2.3 0 1,0 -2.9,0M119.33,424.07a1.45,2.3 0 1,0 2.9,0a1.45,2.3 0 1,0 -2.9,0M119.84,420.66a1.45,2.3 0 1,0 2.9,0a1.45,2.3 0 1,0 -2.9,0M120.82,419.37a1.45,2.3 0 1,0 2.9,0a1.45,2.3 0 1,0 -2.9,0M121.6,417.59a1.45,2.3 0 1,0 2.9,0a1.45,2.3 0 1,0 -2.9,0M121.97,417.43a1.45,2.3 0 1,0 2.9,0a1.45,2.3 0 1,0 -2.9,0M122.76,421.52a1.45,2.3 0 1,0 2.9,0a1.45,2.3 0 1,0 -2.9,0M123.42,418.14a1.45,2.3 0 1,0 2.9,0a1.45,2.3 0 1,0 -2.9,0M124.25,412.69a1.45,2.3 0 1,0 2.9,0a1.45,2.3 0 1,0 -2.9,0M124.83,415.89a1.45,2.3 0 1,0 2.9,0a1.45,2.3 0 1,0 -2.9,0M125.93,422.43a1.45,2.3 0 1,0 2.9,0a1.45,2.3 0 1,0 -2.9,0M126.39,417.36a1.45,2.3 0 1,0 2.9,0a1.45,2.3 0 1,0 -2.9,0M127.29,418.98a1.45,2.3 0 1,0 2.9,0a1.45,2.3 0 1,0 -2.9,0M128.02,419.9a1.45,2.3 0 1,0 2.9,0a1.45,2.3 0 1,0 -2.9,0M128.55,421.17a1.45,2.3 0 1,0 2.9,0a1.45,2.3 0 1,0 -2.9,0M129.43,420.35a1.45,2.3 0 1,0 2.9,0a1.45,2.3 0 1,0 -2.9,0M129.62,416.85a1.45,2.3 0 1,0 2.9,0a1.45,2.3 0 1,0 -2.9,0M130.3,415.91a1.45,2.3 0 1,0 2.9,0a1.45,2.3 0 1,0 -2.9,0M131.43,416.31a1.45,2.3 0 1,0 2.9,0a1.45,2.3 0 1,0 -2.9,0M132.03,410.66a1.45,2.3 0 1,0 2.9,0a1.45,2.3 0 1,0 -2.9,0M132.66,418.37a1.45,2.3 0 1,0 2.9,0a1.45,2.3 0 1,0 -2.9,0M133.65,423.34a1.45,2.3 0 1,0 2.9,0a1.45,2.3 0 1,0 -2.9,0M134.14,420.57a1.45,2.3 0 1,0 2.9,0a1.45,2.3 0 1,0 -2.9,0M134.89,416.49a1.45,2.3 0 1,0 2.9,0a1.45,2.3 0 1,0 -2.9,0M135.59,421.17a1.45,2.3 0 1,0 2.9,0a1.45,2.3 0 1,0 -2.9,0M135.96,416a1.45,2.3 0 1,0 2.9,0a1.45,2.3 0 1,0 -2.9,0M136.68,415.03a1.45,2.3 0 1,0 2.9,0a1.45,2.3 0 1,0 -2.9,0M137.34,409.39a1.45,2.3 0 1,0 2.9,0a1.45,2.3 0 1,0 -2.9,0M138.54,409.87a1.45,2.3 0 1,0 2.9,0a1.45,2.3 0 1,0 -2.9,0M139.11,400.54a1.45,2.3 0 1,0 2.9,0a1.45,2.3 0 1,0 -2.9,0M139.69,391.73a1.45,2.3 0 1,0 2.9,0a1.45,2.3 0 1,0 -2.9,0M140.43,390.28a1.45,2.3 0 1,0 2.9,0a1.45,2.3 0 1,0 -2.9,0M140.83,389.21a1.45,2.3 0 1,0 2.9,0a1.45,2.3 0 1,0 -2.9,0M141.8,380.79a1.45,2.3 0 1,0 2.9,0a1.45,2.3 0 1,0 -2.9,0M142.46,380.67a1.45,2.3 0 1,0 2.9,0a1.45,2.3 0 1,0 -2.9,0M143.36,370.34a1.45,2.3 0 1,0 2.9,0a1.45,2.3 0 1,0 -2.9,0M143.6,364.37a1.45,2.3 0 1,0 2.9,0a1.45,2.3 0 1,0 -2.9,0M144.62,365.45a1.45,2.3 0 1,0 2.9,0a1.45,2.3 0 1,0 -2.9,0M145.45,358a1.45,2.3 0 1,0 2.9,0a1.45,2.3 0 1,0 -2.9,0M146.13,357.89a1.45,2.3 0 1,0 2.9,0a1.45,2.3 0 1,0 -2.9,0M146.44,352.1a1.45,2.3 0 1,0 2.9,0a1.45,2.3 0 1,0 -2.9,0M147.64,350.59a1.45,2.3 0 1,0 2.9,0a1.45,2.3 0 1,0 -2.9,0M148.12,343.12a1.45,2.3 0 1,0 2.9,0a1.45,2.3 0 1,0 -2.9,0M148.94,348.66a1.45,2.3 0 1,0 2.9,0a1.45,2.3 0 1,0 -2.9,0M149.46,344.95a1.45,2.3 0 1,0 2.9,0a1.45,2.3 0 1,0 -2.9,0M150.41,350.96a1.45,2.3 0 1,0 2.9,0a1.45,2.3 0 1,0 -2.9,0M151.03,357.05a1.45,2.3 0 1,0 2.9,0a1.45,2.3 0 1,0 -2.9,0M151.61,358.19a1.45,2.3 0 1,0 2.9,0a1.45,2.3 0 1,0 -2.9,0M152.44,363.94a1.45,2.3 0 1,0 2.9,0a1.45,2.3 0 1,0 -2.9,0M153.2,364.68a1.45,2.3 0 1,0 2.9,0a1.45,2.3 0 1,0 -2.9,0M153.43,378.4a1.45,2.3 0 1,0 2.9,0a1.45,2.3 0 1,0 -2.9,0M154.17,390.29a1.45,2.3 0 1,0 2.9,0a1.45,2.3 0 1,0 -2.9,0M155.05,403.88a1.45,2.3 0 1,0 2.9,0a1.45,2.3 0 1,0 -2.9,0M155.51,407.3a1.45,2.3 0 1,0 2.9,0a1.45,2.3 0 1,0 -2.9,0M156.3,414.07a1.45,2.3 0 1,0 2.9,0a1.45,2.3 0 1,0 -2.9,0M157.13,434.06a1.45,2.3 0 1,0 2.9,0a1.45,2.3 0 1,0 -2.9,0M157.65,437.18a1.45,2.3 0 1,0 2.9,0a1.45,2.3 0 1,0 -2.9,0M158.27,447.26a1.45,2.3 0 1,0 2.9,0a1.45,2.3 0 1,0 -2.9,0M159.31,460.61a1.45,2.3 0 1,0 2.9,0a1.45,2.3 0 1,0 -2.9,0M160.09,460.95a1.45,2.3 0 1,0 2.9,0a1.45,2.3 0 1,0 -2.9,0M160.44,462.06a1.45,2.3 0 1,0 2.9,0a1.45,2.3 0 1,0 -2.9,0M161.51,469.09a1.45,2.3 0 1,0 2.9,0a1.45,2.3 0 1,0 -2.9,0M162.02,482.69a1.45,2.3 0 1,0 2.9,0a1.45,2.3 0 1,0 -2.9,0M162.61,484.32a1.45,2.3 0 1,0 2.9,0a1.45,2.3 0 1,0 -2.9,0M163.59,482.12a1.45,2.3 0 1,0 2.9,0a1.45,2.3 0 1,0 -2.9,0M164.05,492.66a1.45,2.3 0 1,0 2.9,0a1.45,2.3 0 1,0 -2.9,0M164.61,491.62a1.45,2.3 0 1,0 2.9,0a1.45,2.3 0 1,0 -2.9,0M165.73,498.55a1.45,2.3 0 1,0 2.9,0a1.45,2.3 0 1,0 -2.9,0M166.19,496.64a1.45,2.3 0 1,0 2.9,0a1.45,2.3 0 1,0 -2.9,0M167.09,496.38a1.45,2.3 0 1,0 2.9,0a1.45,2.3 0 1,0 -2.9,0M167.45,505.02a1.45,2.3 0 1,0 2.9,0a1.45,2.3 0 1,0 -2.9,0M168.06,494.92a1.45,2.3 0 1,0 2.9,0a1.45,2.3 0 1,0 -2.9,0M169.27,501.18a1.45,2.3 0 1,0 2.9,0a1.45,2.3 0 1,0 -2.9,0M169.51,495.94a1.45,2.3 0 1,0 2.9,0a1.45,2.3 0 1,0 -2.9,0M170.59,501.53a1.45,2.3 0 1,0 2.9,0a1.45,2.3 0 1,0 -2.9,0M171.43,497a1.45,2.3 0 1,0 2.9,0a1.45,2.3 0 1,0 -2.9,0M172.12,496.96a1.45,2.3 0 1,0 2.9,0a1.45,2.3 0 1,0 -2.9,0M172.34,496.71a1.45,2.3 0 1,0 2.9,0a1.45,2.3 0 1,0 -2.9,0M173.13,498.52a1.45,2.3 0 1,0 2.9,0a1.45,2.3 0 1,0 -2.9,0M174.22,501.76a1.45,2.3 0 1,0 2.9,0a1.45,2.3 0 1,0 -2.9,0M174.73,499.56a1.45,2.3 0 1,0 2.9,0a1.45,2.3 0 1,0 -2.9,0M175.62,499.94a1.45,2.3 0 1,0 2.9,0a1.45,2.3 0 1,0 -2.9,0M175.99,502.89a1.45,2.3 0 1,0 2.9,0a1.45,2.3 0 1,0 -2.9,0M176.69,499.2a1.45,2.3 0 1,0 2.9,0a1.45,2.3 0 1,0 -2.9,0M177.35,503.83a1.45,2.3 0 1,0 2.9,0a1.45,2.3 0 1,0 -2.9,0M178.05,504.14a1.45,2.3 0 1,0 2.9,0a1.45,2.3 0 1,0 -2.9,0M178.73,507.07a1.45,2.3 0 1,0 2.9,0a1.45,2.3 0 1,0 -2.9,0M179.46,505.93a1.45,2.3 0 1,0 2.9,0a1.45,2.3 0 1,0 -2.9,0M180.51,505.34a1.45,2.3 0 1,0 2.9,0a1.45,2.3 0 1,0 -2.9,0M181.16,500.3a1.45,2.3 0 1,0 2.9,0a1.45,2.3 0 1,0 -2.9,0M181.51,508.4a1.45,2.3 0 1,0 2.9,0a1.45,2.3 0 1,0 -2.9,0M182.19,508.58a1.45,2.3 0 1,0 2.9,0a1.45,2.3 0 1,0 -2.9,0M183.34,500.58a1.45,2.3 0 1,0 2.9,0a1.45,2.3 0 1,0 -2.9,0M183.6,509.92a1.45,2.3 0 1,0 2.9,0a1.45,2.3 0 1,0 -2.9,0M184.21,504.37a1.45,2.3 0 1,0 2.9,0a1.45,2.3 0 1,0 -2.9,0M185,505.03a1.45,2.3 0 1,0 2.9,0a1.45,2.3 0 1,0 -2.9,0M186.11,513.87a1.45,2.3 0 1,0 2.9,0a1.45,2.3 0 1,0 -2.9,0M186.84,509.21a1.45,2.3 0 1,0 2.9,0a1.45,2.3 0 1,0 -2.9,0M187.54,513.81a1.45,2.3 0 1,0 2.9,0a1.45,2.3 0 1,0 -2.9,0M188.1,515.69a1.45,2.3 0 1,0 2.9,0a1.45,2.3 0 1,0 -2.9,0M188.79,510.47a1.45,2.3 0 1,0 2.9,0a1.45,2.3 0 1,0 -2.9,0M189.4,516.73a1.45,2.3 0 1,0 2.9,0a1.45,2.3 0 1,0 -2.9,0M190.26,517.23a1.45,2.3 0 1,0 2.9,0a1.45,2.3 0 1,0 -2.9,0M190.64,516.29a1.45,2.3 0 1,0 2.9,0a1.45,2.3 0 1,0 -2.9,0M191.62,517.12a1.45,2.3 0 1,0 2.9,0a1.45,2.3 0 1,0 -2.9,0M191.92,518.02a1.45,2.3 0 1,0 2.9,0a1.45,2.3 0 1,0 -2.9,0M192.62,512.61a1.45,2.3 0 1,0 2.9,0a1.45,2.3 0 1,0 -2.9,0M193.46,521.85a1.45,2.3 0 1,0 2.9,0a1.45,2.3 0 1,0 -2.9,0M194.01,519.15a1.45,2.3 0 1,0 2.9,0a1.45,2.3 0 1,0 -2.9,0M194.99,519.17a1.45,2.3 0 1,0 2.9,0a1.45,2.3 0 1,0 -2.9,0M195.8,517.87a1.45,2.3 0 1,0 2.9,0a1.45,2.3 0 1,0 -2.9,0M196.42,524.88a1.45,2.3 0 1,0 2.9,0a1.45,2.3 0 1,0 -2.9,0" fill="none" stroke="#cf64a8" stroke-width="0.8"/>
<path d="M98,450.5C98.4,450.75 99.4,452.08 100.4,452C101.4,451.92 102.52,451.22 104,450C105.48,448.78 107.8,446.87 109.3,444.7C110.8,442.53 111.68,439.63 113,437C114.32,434.37 115.87,431.23 117.2,428.9C118.53,426.57 119.68,424.75 121,423C122.32,421.25 123.53,419.6 125.1,418.4C126.67,417.2 129.08,415.87 130.4,415.8C131.72,415.73 132.13,417.47 133,418C133.87,418.53 134.77,420 135.6,419C136.43,418 137.18,415.17 138,412C138.82,408.83 139.67,404.5 140.5,400C141.33,395.5 142.17,390.83 143,385C143.83,379.17 144.75,370.5 145.5,365C146.25,359.5 146.85,355.08 147.5,352C148.15,348.92 148.83,347 149.4,346.5C149.97,346 150.38,347.25 150.9,349C151.42,350.75 151.95,353.5 152.5,357C153.05,360.5 153.68,364.83 154.2,370C154.72,375.17 155.13,382.17 155.6,388C156.07,393.83 156.38,396.43 157,405C157.62,413.57 158.63,430.57 159.3,439.4C159.97,448.23 160.35,452.3 161,458C161.65,463.7 162.53,468.6 163.2,473.6C163.87,478.6 164.35,484.07 165,488C165.65,491.93 165.87,495 167.1,497.2C168.33,499.4 170.75,500.23 172.4,501.2C174.05,502.17 175.25,502.35 177,503C178.75,503.65 181.07,503.93 182.9,505.1C184.73,506.27 187.15,509.18 188,510" fill="none" stroke="#c05090" stroke-width="1.0"/>
<path d="M26.6,515.6H39.7" stroke="#7fd3da" stroke-width="1.8"/>
<path d="M26.6,529.3H39.7" stroke="#f5a865" stroke-width="1.8"/>
<text x="43.1" y="519.2" font-size="9.2" text-anchor="start" font-weight="normal" fill="#222" >Co(I)</text>
<text x="43.1" y="532.9" font-size="9.2" text-anchor="start" font-weight="normal" fill="#222" >Co(II)</text>
<text x="133.8" y="335.5" font-size="9.7" text-anchor="start" font-weight="normal" fill="#222" >Co 2<tspan font-style="italic">p</tspan><tspan font-size="6" dy="3">3/2</tspan></text>
<text x="64.7" y="361.3" font-size="9.7" text-anchor="start" font-weight="normal" fill="#222" >Co 2<tspan font-style="italic">p</tspan><tspan font-size="6" dy="3">1/2</tspan></text>
</svg></body></html>
